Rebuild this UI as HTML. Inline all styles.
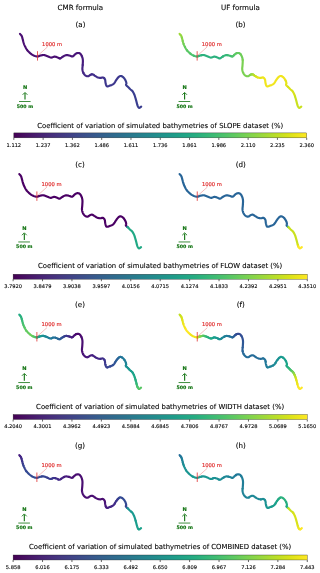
<!DOCTYPE html>
<html><head><meta charset="utf-8"><title>Coefficient of variation of simulated bathymetries</title>
<style>html,body{margin:0;padding:0;background:#fff}svg{display:block}</style></head>
<body>
<svg width="320" height="573" viewBox="0 0 320 573" font-family="'DejaVu Sans', 'Liberation Sans', sans-serif">
<defs><linearGradient id="vir" x1="0" x2="1" y1="0" y2="0"><stop offset="0.000" stop-color="#440154"/><stop offset="0.031" stop-color="#470d60"/><stop offset="0.062" stop-color="#48186a"/><stop offset="0.094" stop-color="#482374"/><stop offset="0.125" stop-color="#472d7b"/><stop offset="0.156" stop-color="#453781"/><stop offset="0.188" stop-color="#424086"/><stop offset="0.219" stop-color="#3e4989"/><stop offset="0.250" stop-color="#3b528b"/><stop offset="0.281" stop-color="#375b8d"/><stop offset="0.312" stop-color="#33638d"/><stop offset="0.344" stop-color="#2f6b8e"/><stop offset="0.375" stop-color="#2c728e"/><stop offset="0.406" stop-color="#297a8e"/><stop offset="0.438" stop-color="#26828e"/><stop offset="0.469" stop-color="#23898e"/><stop offset="0.500" stop-color="#21918c"/><stop offset="0.531" stop-color="#1f988b"/><stop offset="0.562" stop-color="#1fa088"/><stop offset="0.594" stop-color="#22a785"/><stop offset="0.625" stop-color="#28ae80"/><stop offset="0.656" stop-color="#32b67a"/><stop offset="0.688" stop-color="#3fbc73"/><stop offset="0.719" stop-color="#4ec36b"/><stop offset="0.750" stop-color="#5ec962"/><stop offset="0.781" stop-color="#70cf57"/><stop offset="0.812" stop-color="#84d44b"/><stop offset="0.844" stop-color="#98d83e"/><stop offset="0.875" stop-color="#addc30"/><stop offset="0.906" stop-color="#c2df23"/><stop offset="0.938" stop-color="#d8e219"/><stop offset="0.969" stop-color="#ece51b"/><stop offset="1.000" stop-color="#fde725"/></linearGradient></defs>
<rect width="320" height="573" fill="#fff"/>
<text x="80.4" y="9.6" font-size="7.1" text-anchor="middle" fill="#000" stroke="#000" stroke-width="0.1">CMR formula</text>
<text x="240.4" y="9.6" font-size="7.1" text-anchor="middle" fill="#000" stroke="#000" stroke-width="0.1">UF formula</text>
<g transform="translate(0.000,0.000) scale(1.00000)">
<text x="80.5" y="26.60" font-size="7.1" text-anchor="middle" fill="#000" stroke="#000" stroke-width="0.1">(a)</text>
<text x="240.5" y="26.60" font-size="7.1" text-anchor="middle" fill="#000" stroke="#000" stroke-width="0.1">(b)</text>
<g fill="none" stroke-width="2.15" stroke-linecap="round" stroke-linejoin="round"><path d="M20.00 33.90 L20.29 34.24 L20.59 34.56 L20.89 34.88 L21.19 35.21 L21.46 35.58 L21.70 36.00 L21.91 36.48 L22.09 37.00 L22.24 37.55 L22.39 38.13 L22.54 38.71 L22.70 39.30 L22.86 39.90 L23.02 40.52 L23.18 41.16 L23.34 41.79 L23.52 42.41 L23.70 43.00 L23.89 43.55 L24.07 44.06 L24.26 44.56 L24.47 45.07 L24.71 45.61 L25.00 46.20 L25.32 46.85 L25.65 47.55 L26.02 48.28 L26.44 49.02 L26.92 49.76 L27.50 50.50 L28.19 51.26 L28.99 52.06 L29.86 52.87 L30.76 53.64 L31.65 54.33 L32.50 54.90 L33.33 55.36 L34.18 55.73 L35.02 56.02 L35.82 56.25 L36.58 56.40 L37.25 56.50 L37.81 56.50 L38.28 56.41 L38.69 56.24 L39.08 56.05 L39.51 55.86 L40.00 55.70 L40.57 55.55 L41.18 55.39 L41.81 55.22 L42.46 55.09 L43.11 55.00 L43.75 55.00 L44.38 55.09 L45.00 55.27 L45.62 55.50 L46.25 55.75 L46.88 56.01 L47.50 56.25 L48.13 56.50 L48.77 56.78 L49.41 57.07 L50.04 57.32 L50.66 57.51 L51.25 57.60 L51.81 57.55 L52.35 57.37 L52.87 57.13 L53.38 56.89 L53.88 56.69 L54.40 56.60 L54.93 56.63 L55.46 56.73 L55.99 56.87 L56.51 57.05 L57.02 57.23 L57.50 57.40 L57.94 57.59 L58.36 57.83 L58.75 58.07 L59.14 58.27 L59.56 58.40 L60.00 58.40" stroke="#4a0e72"/><path d="M60.00 58.40 L60.48 58.25 L60.99 57.96 L61.51 57.60 L62.04 57.20 L62.57 56.82 L63.10 56.50 L63.62 56.21 L64.12 55.92 L64.63 55.64 L65.15 55.40 L65.69 55.21 L66.25 55.10 L66.85 55.08 L67.50 55.14 L68.16 55.26 L68.81 55.41 L69.43 55.57 L70.00 55.70 L70.50 55.86 L70.95 56.07 L71.37 56.28 L71.78 56.46 L72.18 56.54 L72.60 56.50 L73.04 56.28 L73.48 55.92 L73.92 55.48 L74.36 55.00 L74.78 54.56 L75.20 54.20 L75.60 53.92 L75.98 53.66 L76.36 53.43 L76.73 53.23 L77.11 53.09 L77.50 53.00 L77.91 52.96 L78.34 52.96 L78.78 53.00 L79.20 53.10 L79.62 53.27 L80.00 53.50 L80.36 53.82 L80.71 54.21 L81.05 54.67 L81.36 55.18 L81.65 55.71 L81.90 56.25" stroke="#491578"/><path d="M81.90 56.25 L82.13 56.80 L82.33 57.38 L82.50 57.98 L82.65 58.62 L82.77 59.29 L82.85 60.00 L82.89 60.77 L82.89 61.60 L82.85 62.46 L82.80 63.33 L82.75 64.19 L82.70 65.00" stroke="#471b7e"/><path d="M82.70 65.00 L82.64 65.78 L82.56 66.54 L82.47 67.28 L82.40 68.01 L82.37 68.71 L82.40 69.40 L82.49 70.07 L82.63 70.73 L82.80 71.37 L83.01 71.98 L83.24 72.56 L83.50 73.10" stroke="#452282"/><path d="M83.50 73.10 L83.79 73.61 L84.11 74.09 L84.46 74.54 L84.83 74.95 L85.22 75.30 L85.60 75.60 L85.99 75.84 L86.40 76.03 L86.82 76.17 L87.25 76.26 L87.68 76.29 L88.10 76.25 L88.52 76.11 L88.95 75.87 L89.37 75.56 L89.79 75.24 L90.20 74.96 L90.60 74.75 L90.98 74.60 L91.34 74.48 L91.69 74.39" stroke="#432886"/><path d="M91.69 74.39 L92.04 74.34 L92.39 74.34 L92.75 74.40 L93.11 74.53 L93.47 74.73 L93.83 74.98 L94.21 75.25 L94.59 75.53 L95.00 75.80 L95.43 76.07 L95.89 76.36 L96.37 76.66 L96.85 76.94 L97.33 77.19 L97.80 77.40 L98.27 77.56 L98.74 77.68 L99.22 77.78 L99.69 77.84 L100.15 77.88 L100.60 77.90 L101.04 77.86 L101.48 77.75 L101.91 77.61 L102.32 77.50 L102.72 77.44 L103.10 77.50 L103.47 77.66 L103.83 77.90 L104.17 78.19" stroke="#402e8a"/><path d="M104.17 78.19 L104.49 78.55 L104.77 78.95 L105.00 79.40 L105.17 79.92 L105.27 80.52 L105.34 81.17 L105.40 81.84 L105.47 82.49 L105.60 83.10 L105.76 83.70 L105.91 84.33 L106.09 84.95 L106.31 85.50 L106.57 85.95 L106.90 86.25 L107.30 86.38 L107.78 86.36 L108.30 86.24 L108.85 86.05 L109.42 85.82 L110.00 85.60 L110.60 85.38 L111.25 85.14 L111.91 84.87 L112.57 84.55 L113.19 84.18 L113.75 83.75 L114.24 83.23 L114.68 82.62 L115.08 81.95 L115.46 81.27 L115.85 80.61 L116.25 80.00 L116.67 79.42 L117.09 78.84 L117.52 78.27 L117.94 77.75 L118.35 77.28 L118.75 76.90 L119.14 76.59 L119.51 76.35 L119.88 76.16 L120.24 76.04 L120.61 75.99 L121.00 76.00" stroke="#3c368d"/><path d="M121.00 76.00 L121.41 76.09 L121.83 76.26 L122.26 76.50 L122.69 76.79 L123.10 77.13 L123.50 77.50 L123.89 77.93 L124.28 78.43 L124.66 78.98 L125.01 79.54 L125.33 80.09 L125.60 80.60 L125.82 81.08 L126.00 81.57 L126.15 82.04 L126.26 82.49 L126.35 82.91 L126.40 83.30 L126.39 83.64 L126.30 83.94 L126.19 84.21 L126.09 84.46 L126.04 84.72 L126.10 85.00 L126.27 85.29 L126.52 85.57 L126.83 85.86 L127.18 86.15 L127.54 86.46 L127.90 86.80 L128.27 87.17 L128.66 87.57 L129.08 87.99 L129.49 88.41 L129.90 88.82 L130.30 89.20 L130.68 89.54 L131.06 89.85 L131.44 90.14 L131.80 90.45 L132.16 90.80 L132.50 91.20 L132.83 91.68 L133.16 92.21 L133.47 92.79 L133.77 93.37 L134.05 93.95 L134.30 94.50 L134.51 95.01 L134.69 95.50 L134.85 95.99 L135.00 96.47 L135.14 96.97 L135.30 97.50 L135.47 98.05 L135.64 98.63 L135.81 99.22 L135.97 99.81 L136.14 100.41 L136.30 101.00 L136.46 101.60 L136.61 102.22 L136.76 102.84 L136.91 103.44 L137.06 104.00 L137.20 104.50 L137.33 104.94 L137.46 105.33 L137.57 105.69 L137.70 106.01 L137.84 106.31 L138.00 106.60 L138.18 106.89 L138.37 107.19 L138.58 107.46 L138.80 107.69 L139.04 107.84 L139.30 107.90 L139.58 107.83 L139.89 107.66 L140.21 107.41 L140.54 107.13 L140.88 106.85 L141.20 106.60" stroke="#393d8f"/></g>
<line x1="37.50" y1="51.20" x2="37.50" y2="60.60" stroke="#e03030" stroke-width="0.8"/><line x1="37.80" y1="55.60" x2="47.50" y2="46.90" stroke="#e03030" stroke-width="0.4" opacity="0.8"/><text x="42.10" y="45.70" font-size="5.2" fill="#e03030" stroke="#e03030" stroke-width="0.18">1000 m</text><text x="25.10" y="89.35" font-size="5.1" font-weight="bold" fill="#0f720f" stroke="#0f720f" stroke-width="0.15" text-anchor="middle">N</text><line x1="25.00" y1="93.00" x2="25.00" y2="99.60" stroke="#0f720f" stroke-width="1.1"/><path d="M22.60 94.80 L25.00 92.40 L27.40 94.80" fill="none" stroke="#0f720f" stroke-width="0.85"/><line x1="19.00" y1="101.50" x2="30.60" y2="101.50" stroke="#0f720f" stroke-width="0.8"/><text x="25.00" y="107.80" font-size="4.7" font-weight="bold" fill="#0f720f" stroke="#0f720f" stroke-width="0.15" text-anchor="middle">500 m</text>
<g transform="translate(159.5,0) scale(1.0041,1)"><g fill="none" stroke-width="2.15" stroke-linecap="round" stroke-linejoin="round"><path d="M20.00 33.90 L20.29 34.24 L20.59 34.56 L20.89 34.88" stroke="#a2da37"/><path d="M20.89 34.88 L21.19 35.21 L21.46 35.58 L21.70 36.00 L21.91 36.48 L22.09 37.00 L22.24 37.55" stroke="#95d840"/><path d="M22.24 37.55 L22.39 38.13 L22.54 38.71 L22.70 39.30 L22.86 39.90 L23.02 40.52 L23.18 41.16" stroke="#86d549"/><path d="M23.18 41.16 L23.34 41.79 L23.52 42.41 L23.70 43.00 L23.89 43.55 L24.07 44.06" stroke="#7ad151"/><path d="M24.07 44.06 L24.26 44.56 L24.47 45.07 L24.71 45.61 L25.00 46.20 L25.32 46.85" stroke="#6ece58"/><path d="M25.32 46.85 L25.65 47.55 L26.02 48.28 L26.44 49.02 L26.92 49.76 L27.50 50.50" stroke="#63cb5f"/><path d="M27.50 50.50 L28.19 51.26 L28.99 52.06 L29.86 52.87 L30.76 53.64" stroke="#58c765"/><path d="M30.76 53.64 L31.65 54.33 L32.50 54.90 L33.33 55.36 L34.18 55.73" stroke="#4ec36b"/><path d="M34.18 55.73 L35.02 56.02 L35.82 56.25 L36.58 56.40 L37.25 56.50" stroke="#44bf70"/><path d="M37.25 56.50 L37.81 56.50 L38.28 56.41 L38.69 56.24 L39.08 56.05 L39.51 55.86" stroke="#3bbb75"/><path d="M39.51 55.86 L40.00 55.70 L40.57 55.55 L41.18 55.39 L41.81 55.22" stroke="#32b67a"/><path d="M41.81 55.22 L42.46 55.09 L43.11 55.00 L43.75 55.00 L44.38 55.09 L45.00 55.27 L45.62 55.50 L46.25 55.75 L46.88 56.01 L47.50 56.25 L48.13 56.50 L48.77 56.78 L49.41 57.07 L50.04 57.32 L50.66 57.51 L51.25 57.60 L51.81 57.55 L52.35 57.37 L52.87 57.13 L53.38 56.89 L53.88 56.69 L54.40 56.60 L54.93 56.63 L55.46 56.73 L55.99 56.87 L56.51 57.05 L57.02 57.23 L57.50 57.40 L57.94 57.59 L58.36 57.83 L58.75 58.07 L59.14 58.27 L59.56 58.40 L60.00 58.40 L60.48 58.25 L60.99 57.96 L61.51 57.60 L62.04 57.20 L62.57 56.82 L63.10 56.50" stroke="#2cb17e"/><path d="M63.10 56.50 L63.62 56.21 L64.12 55.92 L64.63 55.64 L65.15 55.40 L65.69 55.21 L66.25 55.10 L66.85 55.08 L67.50 55.14" stroke="#32b67a"/><path d="M67.50 55.14 L68.16 55.26 L68.81 55.41 L69.43 55.57 L70.00 55.70 L70.50 55.86 L70.95 56.07" stroke="#3bbb75"/><path d="M70.95 56.07 L71.37 56.28 L71.78 56.46 L72.18 56.54 L72.60 56.50" stroke="#44bf70"/><path d="M72.60 56.50 L73.04 56.28 L73.48 55.92 L73.92 55.48 L74.36 55.00" stroke="#4ec36b"/><path d="M74.36 55.00 L74.78 54.56 L75.20 54.20 L75.60 53.92 L75.98 53.66 L76.36 53.43 L76.73 53.23" stroke="#58c765"/><path d="M76.73 53.23 L77.11 53.09 L77.50 53.00 L77.91 52.96 L78.34 52.96 L78.78 53.00 L79.20 53.10 L79.62 53.27 L80.00 53.50 L80.36 53.82 L80.71 54.21" stroke="#63cb5f"/><path d="M80.71 54.21 L81.05 54.67 L81.36 55.18 L81.65 55.71 L81.90 56.25 L82.13 56.80 L82.33 57.38 L82.50 57.98 L82.65 58.62 L82.77 59.29 L82.85 60.00" stroke="#6ece58"/><path d="M82.85 60.00 L82.89 60.77 L82.89 61.60 L82.85 62.46 L82.80 63.33 L82.75 64.19 L82.70 65.00 L82.64 65.78 L82.56 66.54 L82.47 67.28 L82.40 68.01 L82.37 68.71 L82.40 69.40 L82.49 70.07 L82.63 70.73 L82.80 71.37 L83.01 71.98 L83.24 72.56 L83.50 73.10 L83.79 73.61 L84.11 74.09 L84.46 74.54 L84.83 74.95 L85.22 75.30 L85.60 75.60 L85.99 75.84 L86.40 76.03 L86.82 76.17 L87.25 76.26 L87.68 76.29 L88.10 76.25 L88.52 76.11 L88.95 75.87 L89.37 75.56 L89.79 75.24 L90.20 74.96 L90.60 74.75 L90.98 74.60" stroke="#7ad151"/><path d="M90.98 74.60 L91.34 74.48 L91.69 74.39" stroke="#86d549"/><path d="M91.69 74.39 L92.04 74.34 L92.39 74.34 L92.75 74.40" stroke="#95d840"/><path d="M92.75 74.40 L93.11 74.53 L93.47 74.73" stroke="#a2da37"/><path d="M93.47 74.73 L93.83 74.98 L94.21 75.25" stroke="#b0dd2f"/><path d="M94.21 75.25 L94.59 75.53 L95.00 75.80 L95.43 76.07" stroke="#bddf26"/><path d="M95.43 76.07 L95.89 76.36 L96.37 76.66" stroke="#cae11f"/><path d="M96.37 76.66 L96.85 76.94 L97.33 77.19 L97.80 77.40" stroke="#d8e219"/><path d="M97.80 77.40 L98.27 77.56 L98.74 77.68 L99.22 77.78 L99.69 77.84 L100.15 77.88 L100.60 77.90 L101.04 77.86 L101.48 77.75 L101.91 77.61 L102.32 77.50 L102.72 77.44 L103.10 77.50" stroke="#e5e419"/><path d="M103.10 77.50 L103.47 77.66 L103.83 77.90 L104.17 78.19 L104.49 78.55 L104.77 78.95 L105.00 79.40 L105.17 79.92 L105.27 80.52 L105.34 81.17 L105.40 81.84 L105.47 82.49 L105.60 83.10 L105.76 83.70 L105.91 84.33 L106.09 84.95 L106.31 85.50 L106.57 85.95 L106.90 86.25 L107.30 86.38 L107.78 86.36 L108.30 86.24 L108.85 86.05 L109.42 85.82 L110.00 85.60 L110.60 85.38 L111.25 85.14 L111.91 84.87 L112.57 84.55 L113.19 84.18 L113.75 83.75 L114.24 83.23 L114.68 82.62 L115.08 81.95 L115.46 81.27 L115.85 80.61 L116.25 80.00 L116.67 79.42 L117.09 78.84 L117.52 78.27 L117.94 77.75 L118.35 77.28 L118.75 76.90 L119.14 76.59 L119.51 76.35 L119.88 76.16 L120.24 76.04 L120.61 75.99 L121.00 76.00 L121.41 76.09 L121.83 76.26 L122.26 76.50 L122.69 76.79 L123.10 77.13 L123.50 77.50 L123.89 77.93 L124.28 78.43 L124.66 78.98 L125.01 79.54 L125.33 80.09 L125.60 80.60" stroke="#f1e51d"/><path d="M125.60 80.60 L125.82 81.08 L126.00 81.57 L126.15 82.04 L126.26 82.49 L126.35 82.91 L126.40 83.30 L126.39 83.64 L126.30 83.94 L126.19 84.21 L126.09 84.46 L126.04 84.72 L126.10 85.00 L126.27 85.29 L126.52 85.57 L126.83 85.86 L127.18 86.15 L127.54 86.46 L127.90 86.80" stroke="#e5e419"/><path d="M127.90 86.80 L128.27 87.17 L128.66 87.57 L129.08 87.99 L129.49 88.41 L129.90 88.82 L130.30 89.20 L130.68 89.54 L131.06 89.85 L131.44 90.14 L131.80 90.45 L132.16 90.80 L132.50 91.20 L132.83 91.68 L133.16 92.21 L133.47 92.79 L133.77 93.37 L134.05 93.95 L134.30 94.50 L134.51 95.01 L134.69 95.50 L134.85 95.99 L135.00 96.47" stroke="#d8e219"/><path d="M135.00 96.47 L135.14 96.97 L135.30 97.50 L135.47 98.05 L135.64 98.63 L135.81 99.22 L135.97 99.81 L136.14 100.41 L136.30 101.00 L136.46 101.60 L136.61 102.22 L136.76 102.84 L136.91 103.44 L137.06 104.00 L137.20 104.50 L137.33 104.94 L137.46 105.33 L137.57 105.69 L137.70 106.01 L137.84 106.31 L138.00 106.60 L138.18 106.89 L138.37 107.19 L138.58 107.46 L138.80 107.69 L139.04 107.84 L139.30 107.90 L139.58 107.83 L139.89 107.66 L140.21 107.41 L140.54 107.13 L140.88 106.85 L141.20 106.60" stroke="#cae11f"/></g><line x1="37.50" y1="51.20" x2="37.50" y2="60.60" stroke="#e03030" stroke-width="0.8"/><line x1="37.80" y1="55.60" x2="47.50" y2="46.90" stroke="#e03030" stroke-width="0.4" opacity="0.8"/><text x="42.10" y="45.70" font-size="5.2" fill="#e03030" stroke="#e03030" stroke-width="0.18">1000 m</text><text x="25.10" y="89.35" font-size="5.1" font-weight="bold" fill="#0f720f" stroke="#0f720f" stroke-width="0.15" text-anchor="middle">N</text><line x1="25.00" y1="93.00" x2="25.00" y2="99.60" stroke="#0f720f" stroke-width="1.1"/><path d="M22.60 94.80 L25.00 92.40 L27.40 94.80" fill="none" stroke="#0f720f" stroke-width="0.85"/><line x1="19.00" y1="101.50" x2="30.60" y2="101.50" stroke="#0f720f" stroke-width="0.8"/><text x="25.00" y="107.80" font-size="4.7" font-weight="bold" fill="#0f720f" stroke="#0f720f" stroke-width="0.15" text-anchor="middle">500 m</text></g>
<text x="160.2" y="127.60" font-size="6.86" text-anchor="middle" fill="#000" stroke="#000" stroke-width="0.1">Coefficient of variation of simulated bathymetries of SLOPE dataset (%)</text>
<rect x="13.84" y="132.90" width="292.86" height="4.95" fill="url(#vir)" stroke="#222" stroke-width="0.35"/>
<line x1="13.84" y1="137.90" x2="13.84" y2="139.90" stroke="#000" stroke-width="0.6"/>
<text x="13.84" y="146.60" font-size="5.1" text-anchor="middle" fill="#000" stroke="#000" stroke-width="0.1">1.112</text>
<line x1="43.13" y1="137.90" x2="43.13" y2="139.90" stroke="#000" stroke-width="0.6"/>
<text x="43.13" y="146.60" font-size="5.1" text-anchor="middle" fill="#000" stroke="#000" stroke-width="0.1">1.237</text>
<line x1="72.41" y1="137.90" x2="72.41" y2="139.90" stroke="#000" stroke-width="0.6"/>
<text x="72.41" y="146.60" font-size="5.1" text-anchor="middle" fill="#000" stroke="#000" stroke-width="0.1">1.362</text>
<line x1="101.70" y1="137.90" x2="101.70" y2="139.90" stroke="#000" stroke-width="0.6"/>
<text x="101.70" y="146.60" font-size="5.1" text-anchor="middle" fill="#000" stroke="#000" stroke-width="0.1">1.486</text>
<line x1="130.98" y1="137.90" x2="130.98" y2="139.90" stroke="#000" stroke-width="0.6"/>
<text x="130.98" y="146.60" font-size="5.1" text-anchor="middle" fill="#000" stroke="#000" stroke-width="0.1">1.611</text>
<line x1="160.27" y1="137.90" x2="160.27" y2="139.90" stroke="#000" stroke-width="0.6"/>
<text x="160.27" y="146.60" font-size="5.1" text-anchor="middle" fill="#000" stroke="#000" stroke-width="0.1">1.736</text>
<line x1="189.56" y1="137.90" x2="189.56" y2="139.90" stroke="#000" stroke-width="0.6"/>
<text x="189.56" y="146.60" font-size="5.1" text-anchor="middle" fill="#000" stroke="#000" stroke-width="0.1">1.861</text>
<line x1="218.84" y1="137.90" x2="218.84" y2="139.90" stroke="#000" stroke-width="0.6"/>
<text x="218.84" y="146.60" font-size="5.1" text-anchor="middle" fill="#000" stroke="#000" stroke-width="0.1">1.986</text>
<line x1="248.13" y1="137.90" x2="248.13" y2="139.90" stroke="#000" stroke-width="0.6"/>
<text x="248.13" y="146.60" font-size="5.1" text-anchor="middle" fill="#000" stroke="#000" stroke-width="0.1">2.110</text>
<line x1="277.41" y1="137.90" x2="277.41" y2="139.90" stroke="#000" stroke-width="0.6"/>
<text x="277.41" y="146.60" font-size="5.1" text-anchor="middle" fill="#000" stroke="#000" stroke-width="0.1">2.235</text>
<line x1="306.70" y1="137.90" x2="306.70" y2="139.90" stroke="#000" stroke-width="0.6"/>
<text x="306.70" y="146.60" font-size="5.1" text-anchor="middle" fill="#000" stroke="#000" stroke-width="0.1">2.360</text>
</g>
<g transform="translate(-0.790,140.000) scale(1.00450)">
<text x="80.5" y="26.60" font-size="7.1" text-anchor="middle" fill="#000" stroke="#000" stroke-width="0.1">(c)</text>
<text x="240.5" y="26.60" font-size="7.1" text-anchor="middle" fill="#000" stroke="#000" stroke-width="0.1">(d)</text>
<g fill="none" stroke-width="2.15" stroke-linecap="round" stroke-linejoin="round"><path d="M20.00 33.90 L20.29 34.24 L20.59 34.56 L20.89 34.88 L21.19 35.21 L21.46 35.58 L21.70 36.00 L21.91 36.48 L22.09 37.00 L22.24 37.55 L22.39 38.13 L22.54 38.71 L22.70 39.30 L22.86 39.90 L23.02 40.52 L23.18 41.16 L23.34 41.79 L23.52 42.41 L23.70 43.00 L23.89 43.55 L24.07 44.06 L24.26 44.56 L24.47 45.07 L24.71 45.61 L25.00 46.20 L25.32 46.85 L25.65 47.55 L26.02 48.28 L26.44 49.02 L26.92 49.76 L27.50 50.50 L28.19 51.26 L28.99 52.06 L29.86 52.87 L30.76 53.64 L31.65 54.33 L32.50 54.90 L33.33 55.36 L34.18 55.73 L35.02 56.02 L35.82 56.25 L36.58 56.40 L37.25 56.50 L37.81 56.50 L38.28 56.41 L38.69 56.24 L39.08 56.05 L39.51 55.86 L40.00 55.70 L40.57 55.55 L41.18 55.39 L41.81 55.22 L42.46 55.09 L43.11 55.00 L43.75 55.00 L44.38 55.09 L45.00 55.27 L45.62 55.50 L46.25 55.75 L46.88 56.01 L47.50 56.25 L48.13 56.50 L48.77 56.78 L49.41 57.07 L50.04 57.32 L50.66 57.51 L51.25 57.60 L51.81 57.55 L52.35 57.37 L52.87 57.13 L53.38 56.89 L53.88 56.69 L54.40 56.60 L54.93 56.63 L55.46 56.73 L55.99 56.87 L56.51 57.05 L57.02 57.23 L57.50 57.40 L57.94 57.59 L58.36 57.83 L58.75 58.07 L59.14 58.27 L59.56 58.40 L60.00 58.40 L60.48 58.25 L60.99 57.96 L61.51 57.60 L62.04 57.20 L62.57 56.82 L63.10 56.50 L63.62 56.21 L64.12 55.92 L64.63 55.64 L65.15 55.40 L65.69 55.21 L66.25 55.10 L66.85 55.08 L67.50 55.14 L68.16 55.26 L68.81 55.41 L69.43 55.57 L70.00 55.70 L70.50 55.86 L70.95 56.07 L71.37 56.28 L71.78 56.46 L72.18 56.54 L72.60 56.50 L73.04 56.28 L73.48 55.92 L73.92 55.48 L74.36 55.00 L74.78 54.56 L75.20 54.20 L75.60 53.92 L75.98 53.66 L76.36 53.43 L76.73 53.23 L77.11 53.09 L77.50 53.00 L77.91 52.96 L78.34 52.96 L78.78 53.00 L79.20 53.10 L79.62 53.27 L80.00 53.50 L80.36 53.82 L80.71 54.21 L81.05 54.67 L81.36 55.18 L81.65 55.71 L81.90 56.25 L82.13 56.80 L82.33 57.38 L82.50 57.98 L82.65 58.62 L82.77 59.29 L82.85 60.00 L82.89 60.77 L82.89 61.60 L82.85 62.46 L82.80 63.33 L82.75 64.19 L82.70 65.00 L82.64 65.78 L82.56 66.54 L82.47 67.28 L82.40 68.01 L82.37 68.71 L82.40 69.40 L82.49 70.07 L82.63 70.73 L82.80 71.37 L83.01 71.98 L83.24 72.56 L83.50 73.10 L83.79 73.61 L84.11 74.09 L84.46 74.54 L84.83 74.95 L85.22 75.30 L85.60 75.60 L85.99 75.84 L86.40 76.03 L86.82 76.17 L87.25 76.26 L87.68 76.29 L88.10 76.25 L88.52 76.11 L88.95 75.87 L89.37 75.56 L89.79 75.24 L90.20 74.96 L90.60 74.75 L90.98 74.60 L91.34 74.48 L91.69 74.39 L92.04 74.34 L92.39 74.34 L92.75 74.40 L93.11 74.53 L93.47 74.73 L93.83 74.98 L94.21 75.25 L94.59 75.53 L95.00 75.80 L95.43 76.07 L95.89 76.36 L96.37 76.66 L96.85 76.94 L97.33 77.19 L97.80 77.40 L98.27 77.56 L98.74 77.68 L99.22 77.78 L99.69 77.84 L100.15 77.88 L100.60 77.90 L101.04 77.86 L101.48 77.75 L101.91 77.61 L102.32 77.50 L102.72 77.44 L103.10 77.50 L103.47 77.66 L103.83 77.90 L104.17 78.19 L104.49 78.55 L104.77 78.95 L105.00 79.40 L105.17 79.92 L105.27 80.52 L105.34 81.17 L105.40 81.84 L105.47 82.49 L105.60 83.10 L105.76 83.70 L105.91 84.33 L106.09 84.95 L106.31 85.50 L106.57 85.95 L106.90 86.25 L107.30 86.38 L107.78 86.36 L108.30 86.24 L108.85 86.05 L109.42 85.82 L110.00 85.60 L110.60 85.38 L111.25 85.14 L111.91 84.87 L112.57 84.55 L113.19 84.18 L113.75 83.75 L114.24 83.23 L114.68 82.62 L115.08 81.95 L115.46 81.27 L115.85 80.61 L116.25 80.00 L116.67 79.42 L117.09 78.84 L117.52 78.27 L117.94 77.75 L118.35 77.28 L118.75 76.90 L119.14 76.59 L119.51 76.35 L119.88 76.16 L120.24 76.04 L120.61 75.99 L121.00 76.00 L121.41 76.09 L121.83 76.26 L122.26 76.50 L122.69 76.79 L123.10 77.13 L123.50 77.50 L123.89 77.93 L124.28 78.43 L124.66 78.98 L125.01 79.54 L125.33 80.09 L125.60 80.60 L125.82 81.08 L126.00 81.57 L126.15 82.04 L126.26 82.49 L126.35 82.91 L126.40 83.30 L126.39 83.64 L126.30 83.94 L126.19 84.21 L126.09 84.46 L126.04 84.72 L126.10 85.00 L126.27 85.29 L126.52 85.57 L126.83 85.86 L127.18 86.15 L127.54 86.46" stroke="#4a0064"/><path d="M127.54 86.46 L127.90 86.80" stroke="#286598"/><path d="M127.90 86.80 L128.27 87.17 L128.66 87.57 L129.08 87.99 L129.49 88.41 L129.90 88.82 L130.30 89.20 L130.68 89.54 L131.06 89.85 L131.44 90.14 L131.80 90.45 L132.16 90.80 L132.50 91.20 L132.83 91.68 L133.16 92.21 L133.47 92.79 L133.77 93.37 L134.05 93.95 L134.30 94.50 L134.51 95.01 L134.69 95.50 L134.85 95.99 L135.00 96.47 L135.14 96.97 L135.30 97.50 L135.47 98.05 L135.64 98.63 L135.81 99.22 L135.97 99.81 L136.14 100.41 L136.30 101.00 L136.46 101.60 L136.61 102.22 L136.76 102.84 L136.91 103.44 L137.06 104.00 L137.20 104.50 L137.33 104.94 L137.46 105.33 L137.57 105.69 L137.70 106.01 L137.84 106.31 L138.00 106.60 L138.18 106.89 L138.37 107.19 L138.58 107.46 L138.80 107.69 L139.04 107.84 L139.30 107.90 L139.58 107.83 L139.89 107.66 L140.21 107.41 L140.54 107.13 L140.88 106.85 L141.20 106.60" stroke="#21a985"/></g>
<line x1="37.50" y1="51.20" x2="37.50" y2="60.60" stroke="#e03030" stroke-width="0.8"/><line x1="37.80" y1="55.60" x2="47.50" y2="46.90" stroke="#e03030" stroke-width="0.4" opacity="0.8"/><text x="42.10" y="45.70" font-size="5.2" fill="#e03030" stroke="#e03030" stroke-width="0.18">1000 m</text><text x="25.10" y="89.35" font-size="5.1" font-weight="bold" fill="#0f720f" stroke="#0f720f" stroke-width="0.15" text-anchor="middle">N</text><line x1="25.00" y1="93.00" x2="25.00" y2="99.60" stroke="#0f720f" stroke-width="1.1"/><path d="M22.60 94.80 L25.00 92.40 L27.40 94.80" fill="none" stroke="#0f720f" stroke-width="0.85"/><line x1="19.00" y1="101.50" x2="30.60" y2="101.50" stroke="#0f720f" stroke-width="0.8"/><text x="25.00" y="107.80" font-size="4.7" font-weight="bold" fill="#0f720f" stroke="#0f720f" stroke-width="0.15" text-anchor="middle">500 m</text>
<g transform="translate(159.5,0) scale(1.0041,1)"><g fill="none" stroke-width="2.15" stroke-linecap="round" stroke-linejoin="round"><path d="M20.00 33.90 L20.29 34.24 L20.59 34.56 L20.89 34.88 L21.19 35.21 L21.46 35.58 L21.70 36.00 L21.91 36.48 L22.09 37.00 L22.24 37.55 L22.39 38.13 L22.54 38.71 L22.70 39.30 L22.86 39.90 L23.02 40.52 L23.18 41.16 L23.34 41.79 L23.52 42.41 L23.70 43.00 L23.89 43.55 L24.07 44.06 L24.26 44.56 L24.47 45.07 L24.71 45.61 L25.00 46.20 L25.32 46.85 L25.65 47.55 L26.02 48.28 L26.44 49.02 L26.92 49.76 L27.50 50.50 L28.19 51.26 L28.99 52.06 L29.86 52.87 L30.76 53.64 L31.65 54.33 L32.50 54.90 L33.33 55.36 L34.18 55.73 L35.02 56.02 L35.82 56.25 L36.58 56.40 L37.25 56.50 L37.81 56.50 L38.28 56.41 L38.69 56.24 L39.08 56.05 L39.51 55.86 L40.00 55.70 L40.57 55.55 L41.18 55.39 L41.81 55.22 L42.46 55.09 L43.11 55.00 L43.75 55.00 L44.38 55.09 L45.00 55.27 L45.62 55.50 L46.25 55.75 L46.88 56.01 L47.50 56.25 L48.13 56.50 L48.77 56.78 L49.41 57.07 L50.04 57.32 L50.66 57.51 L51.25 57.60 L51.81 57.55 L52.35 57.37 L52.87 57.13 L53.38 56.89 L53.88 56.69 L54.40 56.60 L54.93 56.63 L55.46 56.73 L55.99 56.87 L56.51 57.05 L57.02 57.23 L57.50 57.40 L57.94 57.59 L58.36 57.83 L58.75 58.07 L59.14 58.27 L59.56 58.40 L60.00 58.40 L60.48 58.25 L60.99 57.96 L61.51 57.60 L62.04 57.20 L62.57 56.82 L63.10 56.50 L63.62 56.21 L64.12 55.92 L64.63 55.64 L65.15 55.40 L65.69 55.21 L66.25 55.10 L66.85 55.08 L67.50 55.14 L68.16 55.26 L68.81 55.41 L69.43 55.57 L70.00 55.70 L70.50 55.86 L70.95 56.07 L71.37 56.28 L71.78 56.46 L72.18 56.54 L72.60 56.50 L73.04 56.28 L73.48 55.92 L73.92 55.48 L74.36 55.00 L74.78 54.56 L75.20 54.20 L75.60 53.92 L75.98 53.66 L76.36 53.43 L76.73 53.23 L77.11 53.09 L77.50 53.00 L77.91 52.96 L78.34 52.96 L78.78 53.00 L79.20 53.10 L79.62 53.27 L80.00 53.50 L80.36 53.82 L80.71 54.21 L81.05 54.67 L81.36 55.18 L81.65 55.71 L81.90 56.25 L82.13 56.80 L82.33 57.38 L82.50 57.98 L82.65 58.62 L82.77 59.29 L82.85 60.00 L82.89 60.77 L82.89 61.60 L82.85 62.46 L82.80 63.33 L82.75 64.19 L82.70 65.00 L82.64 65.78 L82.56 66.54 L82.47 67.28 L82.40 68.01 L82.37 68.71 L82.40 69.40 L82.49 70.07 L82.63 70.73 L82.80 71.37 L83.01 71.98 L83.24 72.56 L83.50 73.10 L83.79 73.61 L84.11 74.09 L84.46 74.54 L84.83 74.95 L85.22 75.30 L85.60 75.60 L85.99 75.84 L86.40 76.03 L86.82 76.17 L87.25 76.26 L87.68 76.29 L88.10 76.25 L88.52 76.11 L88.95 75.87 L89.37 75.56 L89.79 75.24 L90.20 74.96 L90.60 74.75 L90.98 74.60 L91.34 74.48 L91.69 74.39 L92.04 74.34 L92.39 74.34 L92.75 74.40 L93.11 74.53 L93.47 74.73 L93.83 74.98 L94.21 75.25 L94.59 75.53 L95.00 75.80 L95.43 76.07 L95.89 76.36 L96.37 76.66 L96.85 76.94 L97.33 77.19 L97.80 77.40 L98.27 77.56 L98.74 77.68 L99.22 77.78 L99.69 77.84 L100.15 77.88 L100.60 77.90 L101.04 77.86 L101.48 77.75 L101.91 77.61 L102.32 77.50 L102.72 77.44 L103.10 77.50 L103.47 77.66 L103.83 77.90 L104.17 78.19 L104.49 78.55 L104.77 78.95 L105.00 79.40 L105.17 79.92 L105.27 80.52 L105.34 81.17 L105.40 81.84 L105.47 82.49 L105.60 83.10 L105.76 83.70 L105.91 84.33 L106.09 84.95 L106.31 85.50 L106.57 85.95 L106.90 86.25 L107.30 86.38 L107.78 86.36 L108.30 86.24 L108.85 86.05 L109.42 85.82 L110.00 85.60 L110.60 85.38 L111.25 85.14 L111.91 84.87 L112.57 84.55 L113.19 84.18 L113.75 83.75 L114.24 83.23 L114.68 82.62 L115.08 81.95 L115.46 81.27 L115.85 80.61 L116.25 80.00 L116.67 79.42 L117.09 78.84 L117.52 78.27 L117.94 77.75 L118.35 77.28 L118.75 76.90 L119.14 76.59 L119.51 76.35 L119.88 76.16 L120.24 76.04 L120.61 75.99 L121.00 76.00 L121.41 76.09 L121.83 76.26 L122.26 76.50 L122.69 76.79 L123.10 77.13 L123.50 77.50 L123.89 77.93 L124.28 78.43 L124.66 78.98 L125.01 79.54 L125.33 80.09 L125.60 80.60 L125.82 81.08 L126.00 81.57 L126.15 82.04 L126.26 82.49 L126.35 82.91 L126.40 83.30 L126.39 83.64 L126.30 83.94 L126.19 84.21 L126.09 84.46 L126.04 84.72 L126.10 85.00 L126.27 85.29 L126.52 85.57 L126.83 85.86 L127.18 86.15 L127.54 86.46" stroke="#286598"/><path d="M127.54 86.46 L127.90 86.80" stroke="#2cb17e"/><path d="M127.90 86.80 L128.27 87.17 L128.66 87.57 L129.08 87.99 L129.49 88.41 L129.90 88.82 L130.30 89.20 L130.68 89.54 L131.06 89.85 L131.44 90.14 L131.80 90.45 L132.16 90.80 L132.50 91.20 L132.83 91.68 L133.16 92.21 L133.47 92.79 L133.77 93.37 L134.05 93.95 L134.30 94.50 L134.51 95.01 L134.69 95.50 L134.85 95.99 L135.00 96.47 L135.14 96.97 L135.30 97.50 L135.47 98.05 L135.64 98.63 L135.81 99.22 L135.97 99.81 L136.14 100.41 L136.30 101.00 L136.46 101.60 L136.61 102.22 L136.76 102.84 L136.91 103.44 L137.06 104.00 L137.20 104.50" stroke="#cae11f"/><path d="M137.20 104.50 L137.33 104.94 L137.46 105.33" stroke="#d8e219"/><path d="M137.46 105.33 L137.57 105.69" stroke="#e5e419"/><path d="M137.57 105.69 L137.70 106.01 L137.84 106.31" stroke="#f1e51d"/><path d="M137.84 106.31 L138.00 106.60 L138.18 106.89 L138.37 107.19 L138.58 107.46 L138.80 107.69 L139.04 107.84 L139.30 107.90 L139.58 107.83 L139.89 107.66 L140.21 107.41 L140.54 107.13 L140.88 106.85 L141.20 106.60" stroke="#fde725"/></g><line x1="37.50" y1="51.20" x2="37.50" y2="60.60" stroke="#e03030" stroke-width="0.8"/><line x1="37.80" y1="55.60" x2="47.50" y2="46.90" stroke="#e03030" stroke-width="0.4" opacity="0.8"/><text x="42.10" y="45.70" font-size="5.2" fill="#e03030" stroke="#e03030" stroke-width="0.18">1000 m</text><text x="25.10" y="89.35" font-size="5.1" font-weight="bold" fill="#0f720f" stroke="#0f720f" stroke-width="0.15" text-anchor="middle">N</text><line x1="25.00" y1="93.00" x2="25.00" y2="99.60" stroke="#0f720f" stroke-width="1.1"/><path d="M22.60 94.80 L25.00 92.40 L27.40 94.80" fill="none" stroke="#0f720f" stroke-width="0.85"/><line x1="19.00" y1="101.50" x2="30.60" y2="101.50" stroke="#0f720f" stroke-width="0.8"/><text x="25.00" y="107.80" font-size="4.7" font-weight="bold" fill="#0f720f" stroke="#0f720f" stroke-width="0.15" text-anchor="middle">500 m</text></g>
<text x="160.2" y="127.60" font-size="6.86" text-anchor="middle" fill="#000" stroke="#000" stroke-width="0.1">Coefficient of variation of simulated bathymetries of FLOW dataset (%)</text>
<rect x="13.84" y="133.60" width="292.86" height="4.95" fill="url(#vir)" stroke="#222" stroke-width="0.35"/>
<line x1="13.84" y1="138.60" x2="13.84" y2="140.60" stroke="#000" stroke-width="0.6"/>
<text x="13.84" y="147.30" font-size="5.1" text-anchor="middle" fill="#000" stroke="#000" stroke-width="0.1">3.7920</text>
<line x1="43.13" y1="138.60" x2="43.13" y2="140.60" stroke="#000" stroke-width="0.6"/>
<text x="43.13" y="147.30" font-size="5.1" text-anchor="middle" fill="#000" stroke="#000" stroke-width="0.1">3.8479</text>
<line x1="72.41" y1="138.60" x2="72.41" y2="140.60" stroke="#000" stroke-width="0.6"/>
<text x="72.41" y="147.30" font-size="5.1" text-anchor="middle" fill="#000" stroke="#000" stroke-width="0.1">3.9038</text>
<line x1="101.70" y1="138.60" x2="101.70" y2="140.60" stroke="#000" stroke-width="0.6"/>
<text x="101.70" y="147.30" font-size="5.1" text-anchor="middle" fill="#000" stroke="#000" stroke-width="0.1">3.9597</text>
<line x1="130.98" y1="138.60" x2="130.98" y2="140.60" stroke="#000" stroke-width="0.6"/>
<text x="130.98" y="147.30" font-size="5.1" text-anchor="middle" fill="#000" stroke="#000" stroke-width="0.1">4.0156</text>
<line x1="160.27" y1="138.60" x2="160.27" y2="140.60" stroke="#000" stroke-width="0.6"/>
<text x="160.27" y="147.30" font-size="5.1" text-anchor="middle" fill="#000" stroke="#000" stroke-width="0.1">4.0715</text>
<line x1="189.56" y1="138.60" x2="189.56" y2="140.60" stroke="#000" stroke-width="0.6"/>
<text x="189.56" y="147.30" font-size="5.1" text-anchor="middle" fill="#000" stroke="#000" stroke-width="0.1">4.1274</text>
<line x1="218.84" y1="138.60" x2="218.84" y2="140.60" stroke="#000" stroke-width="0.6"/>
<text x="218.84" y="147.30" font-size="5.1" text-anchor="middle" fill="#000" stroke="#000" stroke-width="0.1">4.1833</text>
<line x1="248.13" y1="138.60" x2="248.13" y2="140.60" stroke="#000" stroke-width="0.6"/>
<text x="248.13" y="147.30" font-size="5.1" text-anchor="middle" fill="#000" stroke="#000" stroke-width="0.1">4.2392</text>
<line x1="277.41" y1="138.60" x2="277.41" y2="140.60" stroke="#000" stroke-width="0.6"/>
<text x="277.41" y="147.30" font-size="5.1" text-anchor="middle" fill="#000" stroke="#000" stroke-width="0.1">4.2951</text>
<line x1="306.70" y1="138.60" x2="306.70" y2="140.60" stroke="#000" stroke-width="0.6"/>
<text x="306.70" y="147.30" font-size="5.1" text-anchor="middle" fill="#000" stroke="#000" stroke-width="0.1">4.3510</text>
</g>
<g transform="translate(-0.790,280.600) scale(1.00450)">
<text x="80.5" y="26.60" font-size="7.1" text-anchor="middle" fill="#000" stroke="#000" stroke-width="0.1">(e)</text>
<text x="240.5" y="26.60" font-size="7.1" text-anchor="middle" fill="#000" stroke="#000" stroke-width="0.1">(f)</text>
<g fill="none" stroke-width="2.15" stroke-linecap="round" stroke-linejoin="round"><path d="M20.00 33.90 L20.29 34.24 L20.59 34.56" stroke="#21a985"/><path d="M20.59 34.56 L20.89 34.88 L21.19 35.21 L21.46 35.58 L21.70 36.00" stroke="#26ad81"/><path d="M21.70 36.00 L21.91 36.48 L22.09 37.00 L22.24 37.55 L22.39 38.13" stroke="#2cb17e"/><path d="M22.39 38.13 L22.54 38.71 L22.70 39.30 L22.86 39.90" stroke="#32b67a"/><path d="M22.86 39.90 L23.02 40.52 L23.18 41.16 L23.34 41.79 L23.52 42.41" stroke="#3bbb75"/><path d="M23.52 42.41 L23.70 43.00 L23.89 43.55 L24.07 44.06 L24.26 44.56" stroke="#44bf70"/><path d="M24.26 44.56 L24.47 45.07 L24.71 45.61 L25.00 46.20 L25.32 46.85" stroke="#4ec36b"/><path d="M25.32 46.85 L25.65 47.55 L26.02 48.28 L26.44 49.02 L26.92 49.76" stroke="#58c765"/><path d="M26.92 49.76 L27.50 50.50 L28.19 51.26 L28.99 52.06 L29.86 52.87 L30.76 53.64" stroke="#63cb5f"/><path d="M30.76 53.64 L31.65 54.33 L32.50 54.90 L33.33 55.36" stroke="#6ece58"/><path d="M33.33 55.36 L34.18 55.73" stroke="#63cb5f"/><path d="M34.18 55.73 L35.02 56.02 L35.82 56.25" stroke="#58c765"/><path d="M35.82 56.25 L36.58 56.40" stroke="#4ec36b"/><path d="M36.58 56.40 L37.25 56.50" stroke="#44bf70"/><path d="M37.25 56.50 L37.81 56.50" stroke="#3bbb75"/><path d="M37.81 56.50 L38.28 56.41" stroke="#32b67a"/><path d="M38.28 56.41 L38.69 56.24" stroke="#2cb17e"/><path d="M38.69 56.24 L39.08 56.05" stroke="#26ad81"/><path d="M39.08 56.05 L39.51 55.86" stroke="#1ea688"/><path d="M39.51 55.86 L40.00 55.70" stroke="#1ba28b"/><path d="M40.00 55.70 L40.57 55.55 L41.18 55.39" stroke="#1a9e8d"/><path d="M41.18 55.39 L41.81 55.22 L42.46 55.09" stroke="#1a9a90"/><path d="M42.46 55.09 L43.11 55.00 L43.75 55.00" stroke="#1b9692"/><path d="M43.75 55.00 L44.38 55.09 L45.00 55.27" stroke="#1c9194"/><path d="M45.00 55.27 L45.62 55.50 L46.25 55.75" stroke="#1d8d95"/><path d="M46.25 55.75 L46.88 56.01 L47.50 56.25" stroke="#1e8896"/><path d="M47.50 56.25 L48.13 56.50 L48.77 56.78 L49.41 57.07" stroke="#1f8397"/><path d="M49.41 57.07 L50.04 57.32 L50.66 57.51 L51.25 57.60 L51.81 57.55" stroke="#207e98"/><path d="M51.81 57.55 L52.35 57.37 L52.87 57.13 L53.38 56.89" stroke="#217899"/><path d="M53.38 56.89 L53.88 56.69 L54.40 56.60 L54.93 56.63 L55.46 56.73 L55.99 56.87" stroke="#237299"/><path d="M55.99 56.87 L56.51 57.05 L57.02 57.23 L57.50 57.40 L57.94 57.59 L58.36 57.83 L58.75 58.07" stroke="#256c98"/><path d="M58.75 58.07 L59.14 58.27 L59.56 58.40 L60.00 58.40 L60.48 58.25" stroke="#286598"/><path d="M60.48 58.25 L60.99 57.96 L61.51 57.60" stroke="#2b5e97"/><path d="M61.51 57.60 L62.04 57.20 L62.57 56.82" stroke="#2e5896"/><path d="M62.57 56.82 L63.10 56.50 L63.62 56.21" stroke="#315195"/><path d="M63.62 56.21 L64.12 55.92 L64.63 55.64" stroke="#334a93"/><path d="M64.63 55.64 L65.15 55.40 L65.69 55.21" stroke="#364491"/><path d="M65.69 55.21 L66.25 55.10 L66.85 55.08" stroke="#393d8f"/><path d="M66.85 55.08 L67.50 55.14 L68.16 55.26 L68.81 55.41" stroke="#3c368d"/><path d="M68.81 55.41 L69.43 55.57 L70.00 55.70" stroke="#402e8a"/><path d="M70.00 55.70 L70.50 55.86 L70.95 56.07" stroke="#432886"/><path d="M70.95 56.07 L71.37 56.28 L71.78 56.46 L72.18 56.54" stroke="#452282"/><path d="M72.18 56.54 L72.60 56.50 L73.04 56.28 L73.48 55.92" stroke="#471b7e"/><path d="M73.48 55.92 L73.92 55.48 L74.36 55.00 L74.78 54.56 L75.20 54.20" stroke="#491578"/><path d="M75.20 54.20 L75.60 53.92 L75.98 53.66 L76.36 53.43 L76.73 53.23" stroke="#4a0e72"/><path d="M76.73 53.23 L77.11 53.09 L77.50 53.00 L77.91 52.96 L78.34 52.96 L78.78 53.00 L79.20 53.10 L79.62 53.27 L80.00 53.50 L80.36 53.82 L80.71 54.21 L81.05 54.67 L81.36 55.18 L81.65 55.71 L81.90 56.25" stroke="#4a076c"/><path d="M81.90 56.25 L82.13 56.80 L82.33 57.38 L82.50 57.98 L82.65 58.62 L82.77 59.29 L82.85 60.00 L82.89 60.77 L82.89 61.60 L82.85 62.46 L82.80 63.33 L82.75 64.19 L82.70 65.00 L82.64 65.78 L82.56 66.54 L82.47 67.28 L82.40 68.01 L82.37 68.71 L82.40 69.40 L82.49 70.07 L82.63 70.73 L82.80 71.37 L83.01 71.98 L83.24 72.56 L83.50 73.10" stroke="#4a0e72"/><path d="M83.50 73.10 L83.79 73.61 L84.11 74.09 L84.46 74.54 L84.83 74.95 L85.22 75.30 L85.60 75.60 L85.99 75.84 L86.40 76.03 L86.82 76.17 L87.25 76.26 L87.68 76.29 L88.10 76.25" stroke="#491578"/><path d="M88.10 76.25 L88.52 76.11 L88.95 75.87 L89.37 75.56 L89.79 75.24 L90.20 74.96 L90.60 74.75 L90.98 74.60 L91.34 74.48 L91.69 74.39 L92.04 74.34 L92.39 74.34 L92.75 74.40" stroke="#471b7e"/><path d="M92.75 74.40 L93.11 74.53 L93.47 74.73 L93.83 74.98 L94.21 75.25 L94.59 75.53 L95.00 75.80 L95.43 76.07 L95.89 76.36 L96.37 76.66 L96.85 76.94" stroke="#452282"/><path d="M96.85 76.94 L97.33 77.19 L97.80 77.40 L98.27 77.56 L98.74 77.68 L99.22 77.78 L99.69 77.84 L100.15 77.88 L100.60 77.90 L101.04 77.86" stroke="#432886"/><path d="M101.04 77.86 L101.48 77.75 L101.91 77.61 L102.32 77.50 L102.72 77.44 L103.10 77.50 L103.47 77.66 L103.83 77.90 L104.17 78.19 L104.49 78.55 L104.77 78.95" stroke="#402e8a"/><path d="M104.77 78.95 L105.00 79.40 L105.17 79.92 L105.27 80.52 L105.34 81.17 L105.40 81.84 L105.47 82.49 L105.60 83.10 L105.76 83.70" stroke="#3c368d"/><path d="M105.76 83.70 L105.91 84.33 L106.09 84.95 L106.31 85.50 L106.57 85.95 L106.90 86.25 L107.30 86.38 L107.78 86.36" stroke="#393d8f"/><path d="M107.78 86.36 L108.30 86.24 L108.85 86.05 L109.42 85.82 L110.00 85.60 L110.60 85.38" stroke="#364491"/><path d="M110.60 85.38 L111.25 85.14 L111.91 84.87 L112.57 84.55 L113.19 84.18" stroke="#334a93"/><path d="M113.19 84.18 L113.75 83.75 L114.24 83.23 L114.68 82.62 L115.08 81.95 L115.46 81.27" stroke="#315195"/><path d="M115.46 81.27 L115.85 80.61 L116.25 80.00 L116.67 79.42" stroke="#2e5896"/><path d="M116.67 79.42 L117.09 78.84 L117.52 78.27 L117.94 77.75" stroke="#2b5e97"/><path d="M117.94 77.75 L118.35 77.28 L118.75 76.90 L119.14 76.59 L119.51 76.35" stroke="#286598"/><path d="M119.51 76.35 L119.88 76.16 L120.24 76.04" stroke="#256c98"/><path d="M120.24 76.04 L120.61 75.99 L121.00 76.00 L121.41 76.09 L121.83 76.26 L122.26 76.50" stroke="#237299"/><path d="M122.26 76.50 L122.69 76.79 L123.10 77.13 L123.50 77.50 L123.89 77.93 L124.28 78.43 L124.66 78.98" stroke="#217899"/><path d="M124.66 78.98 L125.01 79.54 L125.33 80.09 L125.60 80.60 L125.82 81.08 L126.00 81.57 L126.15 82.04" stroke="#207e98"/><path d="M126.15 82.04 L126.26 82.49 L126.35 82.91 L126.40 83.30 L126.39 83.64 L126.30 83.94" stroke="#1f8397"/><path d="M126.30 83.94 L126.19 84.21 L126.09 84.46 L126.04 84.72" stroke="#1e8896"/><path d="M126.04 84.72 L126.10 85.00 L126.27 85.29 L126.52 85.57 L126.83 85.86" stroke="#1d8d95"/><path d="M126.83 85.86 L127.18 86.15 L127.54 86.46 L127.90 86.80 L128.27 87.17" stroke="#1c9194"/><path d="M128.27 87.17 L128.66 87.57 L129.08 87.99 L129.49 88.41" stroke="#1b9692"/><path d="M129.49 88.41 L129.90 88.82 L130.30 89.20 L130.68 89.54 L131.06 89.85" stroke="#1a9a90"/><path d="M131.06 89.85 L131.44 90.14 L131.80 90.45 L132.16 90.80 L132.50 91.20 L132.83 91.68" stroke="#1a9e8d"/><path d="M132.83 91.68 L133.16 92.21 L133.47 92.79 L133.77 93.37 L134.05 93.95" stroke="#1ba28b"/><path d="M134.05 93.95 L134.30 94.50 L134.51 95.01 L134.69 95.50 L134.85 95.99 L135.00 96.47" stroke="#1ea688"/><path d="M135.00 96.47 L135.14 96.97 L135.30 97.50 L135.47 98.05 L135.64 98.63" stroke="#21a985"/><path d="M135.64 98.63 L135.81 99.22 L135.97 99.81" stroke="#26ad81"/><path d="M135.97 99.81 L136.14 100.41 L136.30 101.00 L136.46 101.60 L136.61 102.22" stroke="#2cb17e"/><path d="M136.61 102.22 L136.76 102.84 L136.91 103.44" stroke="#32b67a"/><path d="M136.91 103.44 L137.06 104.00 L137.20 104.50 L137.33 104.94 L137.46 105.33" stroke="#3bbb75"/><path d="M137.46 105.33 L137.57 105.69 L137.70 106.01" stroke="#44bf70"/><path d="M137.70 106.01 L137.84 106.31 L138.00 106.60 L138.18 106.89 L138.37 107.19 L138.58 107.46 L138.80 107.69 L139.04 107.84 L139.30 107.90" stroke="#4ec36b"/><path d="M139.30 107.90 L139.58 107.83 L139.89 107.66 L140.21 107.41 L140.54 107.13 L140.88 106.85 L141.20 106.60" stroke="#58c765"/></g>
<line x1="37.50" y1="51.20" x2="37.50" y2="60.60" stroke="#e03030" stroke-width="0.8"/><line x1="37.80" y1="55.60" x2="47.50" y2="46.90" stroke="#e03030" stroke-width="0.4" opacity="0.8"/><text x="42.10" y="45.70" font-size="5.2" fill="#e03030" stroke="#e03030" stroke-width="0.18">1000 m</text><text x="25.10" y="89.35" font-size="5.1" font-weight="bold" fill="#0f720f" stroke="#0f720f" stroke-width="0.15" text-anchor="middle">N</text><line x1="25.00" y1="93.00" x2="25.00" y2="99.60" stroke="#0f720f" stroke-width="1.1"/><path d="M22.60 94.80 L25.00 92.40 L27.40 94.80" fill="none" stroke="#0f720f" stroke-width="0.85"/><line x1="19.00" y1="101.50" x2="30.60" y2="101.50" stroke="#0f720f" stroke-width="0.8"/><text x="25.00" y="107.80" font-size="4.7" font-weight="bold" fill="#0f720f" stroke="#0f720f" stroke-width="0.15" text-anchor="middle">500 m</text>
<g transform="translate(159.5,0) scale(1.0041,1)"><g fill="none" stroke-width="2.15" stroke-linecap="round" stroke-linejoin="round"><path d="M20.00 33.90 L20.29 34.24 L20.59 34.56" stroke="#bddf26"/><path d="M20.59 34.56 L20.89 34.88 L21.19 35.21 L21.46 35.58 L21.70 36.00 L21.91 36.48" stroke="#cae11f"/><path d="M21.91 36.48 L22.09 37.00 L22.24 37.55 L22.39 38.13 L22.54 38.71 L22.70 39.30" stroke="#d8e219"/><path d="M22.70 39.30 L22.86 39.90 L23.02 40.52 L23.18 41.16 L23.34 41.79 L23.52 42.41 L23.70 43.00" stroke="#e5e419"/><path d="M23.70 43.00 L23.89 43.55 L24.07 44.06 L24.26 44.56 L24.47 45.07 L24.71 45.61 L25.00 46.20 L25.32 46.85 L25.65 47.55" stroke="#f1e51d"/><path d="M25.65 47.55 L26.02 48.28 L26.44 49.02 L26.92 49.76 L27.50 50.50 L28.19 51.26 L28.99 52.06 L29.86 52.87 L30.76 53.64" stroke="#fde725"/><path d="M30.76 53.64 L31.65 54.33 L32.50 54.90 L33.33 55.36 L34.18 55.73 L35.02 56.02 L35.82 56.25 L36.58 56.40 L37.25 56.50" stroke="#f1e51d"/><path d="M37.25 56.50 L37.81 56.50" stroke="#e5e419"/><path d="M37.81 56.50 L38.28 56.41" stroke="#d8e219"/><path d="M38.28 56.41 L38.69 56.24" stroke="#cae11f"/><path d="M38.69 56.24 L39.08 56.05" stroke="#bddf26"/><path d="M39.08 56.05 L39.51 55.86" stroke="#b0dd2f"/><path d="M39.51 55.86 L40.00 55.70" stroke="#a2da37"/><path d="M40.00 55.70 L40.57 55.55" stroke="#95d840"/><path d="M40.57 55.55 L41.18 55.39" stroke="#86d549"/><path d="M41.18 55.39 L41.81 55.22 L42.46 55.09" stroke="#7ad151"/><path d="M42.46 55.09 L43.11 55.00" stroke="#6ece58"/><path d="M43.11 55.00 L43.75 55.00" stroke="#63cb5f"/><path d="M43.75 55.00 L44.38 55.09" stroke="#58c765"/><path d="M44.38 55.09 L45.00 55.27" stroke="#4ec36b"/><path d="M45.00 55.27 L45.62 55.50 L46.25 55.75" stroke="#44bf70"/><path d="M46.25 55.75 L46.88 56.01" stroke="#3bbb75"/><path d="M46.88 56.01 L47.50 56.25" stroke="#32b67a"/><path d="M47.50 56.25 L48.13 56.50 L48.77 56.78" stroke="#2cb17e"/><path d="M48.77 56.78 L49.41 57.07 L50.04 57.32 L50.66 57.51" stroke="#26ad81"/><path d="M50.66 57.51 L51.25 57.60 L51.81 57.55" stroke="#21a985"/><path d="M51.81 57.55 L52.35 57.37 L52.87 57.13 L53.38 56.89" stroke="#1ea688"/><path d="M53.38 56.89 L53.88 56.69 L54.40 56.60" stroke="#1ba28b"/><path d="M54.40 56.60 L54.93 56.63 L55.46 56.73 L55.99 56.87" stroke="#1a9e8d"/><path d="M55.99 56.87 L56.51 57.05 L57.02 57.23 L57.50 57.40 L57.94 57.59" stroke="#1a9a90"/><path d="M57.94 57.59 L58.36 57.83 L58.75 58.07 L59.14 58.27" stroke="#1b9692"/><path d="M59.14 58.27 L59.56 58.40 L60.00 58.40 L60.48 58.25 L60.99 57.96" stroke="#1c9194"/><path d="M60.99 57.96 L61.51 57.60 L62.04 57.20" stroke="#1d8d95"/><path d="M62.04 57.20 L62.57 56.82 L63.10 56.50 L63.62 56.21 L64.12 55.92" stroke="#1e8896"/><path d="M64.12 55.92 L64.63 55.64 L65.15 55.40" stroke="#1f8397"/><path d="M65.15 55.40 L65.69 55.21 L66.25 55.10 L66.85 55.08 L67.50 55.14" stroke="#207e98"/><path d="M67.50 55.14 L68.16 55.26 L68.81 55.41 L69.43 55.57" stroke="#217899"/><path d="M69.43 55.57 L70.00 55.70 L70.50 55.86 L70.95 56.07 L71.37 56.28" stroke="#237299"/><path d="M71.37 56.28 L71.78 56.46 L72.18 56.54 L72.60 56.50" stroke="#256c98"/><path d="M72.60 56.50 L73.04 56.28 L73.48 55.92" stroke="#286598"/><path d="M73.48 55.92 L73.92 55.48 L74.36 55.00 L74.78 54.56" stroke="#2b5e97"/><path d="M74.78 54.56 L75.20 54.20 L75.60 53.92" stroke="#2e5896"/><path d="M75.60 53.92 L75.98 53.66 L76.36 53.43 L76.73 53.23" stroke="#315195"/><path d="M76.73 53.23 L77.11 53.09 L77.50 53.00 L77.91 52.96 L78.34 52.96 L78.78 53.00 L79.20 53.10 L79.62 53.27 L80.00 53.50 L80.36 53.82 L80.71 54.21 L81.05 54.67 L81.36 55.18" stroke="#334a93"/><path d="M81.36 55.18 L81.65 55.71 L81.90 56.25 L82.13 56.80 L82.33 57.38 L82.50 57.98 L82.65 58.62 L82.77 59.29 L82.85 60.00 L82.89 60.77" stroke="#315195"/><path d="M82.89 60.77 L82.89 61.60 L82.85 62.46 L82.80 63.33 L82.75 64.19 L82.70 65.00 L82.64 65.78 L82.56 66.54" stroke="#2e5896"/><path d="M82.56 66.54 L82.47 67.28 L82.40 68.01 L82.37 68.71 L82.40 69.40 L82.49 70.07" stroke="#2b5e97"/><path d="M82.49 70.07 L82.63 70.73 L82.80 71.37 L83.01 71.98 L83.24 72.56 L83.50 73.10" stroke="#286598"/><path d="M83.50 73.10 L83.79 73.61 L84.11 74.09 L84.46 74.54 L84.83 74.95 L85.22 75.30 L85.60 75.60 L85.99 75.84 L86.40 76.03 L86.82 76.17 L87.25 76.26 L87.68 76.29 L88.10 76.25 L88.52 76.11 L88.95 75.87 L89.37 75.56 L89.79 75.24 L90.20 74.96 L90.60 74.75 L90.98 74.60 L91.34 74.48 L91.69 74.39 L92.04 74.34 L92.39 74.34 L92.75 74.40 L93.11 74.53 L93.47 74.73 L93.83 74.98 L94.21 75.25 L94.59 75.53 L95.00 75.80 L95.43 76.07 L95.89 76.36 L96.37 76.66 L96.85 76.94 L97.33 77.19 L97.80 77.40 L98.27 77.56 L98.74 77.68 L99.22 77.78 L99.69 77.84 L100.15 77.88 L100.60 77.90 L101.04 77.86 L101.48 77.75 L101.91 77.61 L102.32 77.50 L102.72 77.44" stroke="#256c98"/><path d="M102.72 77.44 L103.10 77.50 L103.47 77.66 L103.83 77.90 L104.17 78.19 L104.49 78.55 L104.77 78.95 L105.00 79.40 L105.17 79.92 L105.27 80.52" stroke="#237299"/><path d="M105.27 80.52 L105.34 81.17 L105.40 81.84 L105.47 82.49 L105.60 83.10 L105.76 83.70 L105.91 84.33 L106.09 84.95 L106.31 85.50 L106.57 85.95 L106.90 86.25" stroke="#217899"/><path d="M106.90 86.25 L107.30 86.38 L107.78 86.36 L108.30 86.24 L108.85 86.05 L109.42 85.82" stroke="#207e98"/><path d="M109.42 85.82 L110.00 85.60 L110.60 85.38 L111.25 85.14 L111.91 84.87 L112.57 84.55" stroke="#1f8397"/><path d="M112.57 84.55 L113.19 84.18 L113.75 83.75 L114.24 83.23 L114.68 82.62 L115.08 81.95" stroke="#1e8896"/><path d="M115.08 81.95 L115.46 81.27 L115.85 80.61 L116.25 80.00 L116.67 79.42 L117.09 78.84" stroke="#1d8d95"/><path d="M117.09 78.84 L117.52 78.27 L117.94 77.75 L118.35 77.28 L118.75 76.90" stroke="#1c9194"/><path d="M118.75 76.90 L119.14 76.59 L119.51 76.35 L119.88 76.16 L120.24 76.04" stroke="#1b9692"/><path d="M120.24 76.04 L120.61 75.99 L121.00 76.00 L121.41 76.09 L121.83 76.26 L122.26 76.50 L122.69 76.79" stroke="#1a9a90"/><path d="M122.69 76.79 L123.10 77.13 L123.50 77.50 L123.89 77.93 L124.28 78.43 L124.66 78.98 L125.01 79.54 L125.33 80.09" stroke="#1a9e8d"/><path d="M125.33 80.09 L125.60 80.60 L125.82 81.08 L126.00 81.57 L126.15 82.04 L126.26 82.49 L126.35 82.91 L126.40 83.30" stroke="#1ba28b"/><path d="M126.40 83.30 L126.39 83.64 L126.30 83.94 L126.19 84.21 L126.09 84.46 L126.04 84.72" stroke="#1ea688"/><path d="M126.04 84.72 L126.10 85.00 L126.27 85.29 L126.52 85.57 L126.83 85.86 L127.18 86.15" stroke="#21a985"/><path d="M127.18 86.15 L127.54 86.46 L127.90 86.80 L128.27 87.17" stroke="#26ad81"/><path d="M128.27 87.17 L128.66 87.57" stroke="#2cb17e"/><path d="M128.66 87.57 L129.08 87.99 L129.49 88.41" stroke="#32b67a"/><path d="M129.49 88.41 L129.90 88.82" stroke="#3bbb75"/><path d="M129.90 88.82 L130.30 89.20 L130.68 89.54" stroke="#44bf70"/><path d="M130.68 89.54 L131.06 89.85" stroke="#4ec36b"/><path d="M131.06 89.85 L131.44 90.14 L131.80 90.45" stroke="#58c765"/><path d="M131.80 90.45 L132.16 90.80" stroke="#63cb5f"/><path d="M132.16 90.80 L132.50 91.20 L132.83 91.68" stroke="#6ece58"/><path d="M132.83 91.68 L133.16 92.21" stroke="#7ad151"/><path d="M133.16 92.21 L133.47 92.79" stroke="#86d549"/><path d="M133.47 92.79 L133.77 93.37 L134.05 93.95" stroke="#95d840"/><path d="M134.05 93.95 L134.30 94.50" stroke="#a2da37"/><path d="M134.30 94.50 L134.51 95.01 L134.69 95.50" stroke="#b0dd2f"/><path d="M134.69 95.50 L134.85 95.99 L135.00 96.47 L135.14 96.97" stroke="#bddf26"/><path d="M135.14 96.97 L135.30 97.50 L135.47 98.05" stroke="#cae11f"/><path d="M135.47 98.05 L135.64 98.63 L135.81 99.22" stroke="#d8e219"/><path d="M135.81 99.22 L135.97 99.81 L136.14 100.41 L136.30 101.00 L136.46 101.60 L136.61 102.22 L136.76 102.84" stroke="#e5e419"/><path d="M136.76 102.84 L136.91 103.44 L137.06 104.00 L137.20 104.50 L137.33 104.94 L137.46 105.33 L137.57 105.69" stroke="#f1e51d"/><path d="M137.57 105.69 L137.70 106.01 L137.84 106.31 L138.00 106.60 L138.18 106.89 L138.37 107.19 L138.58 107.46 L138.80 107.69 L139.04 107.84 L139.30 107.90 L139.58 107.83 L139.89 107.66 L140.21 107.41 L140.54 107.13 L140.88 106.85 L141.20 106.60" stroke="#fde725"/></g><line x1="37.50" y1="51.20" x2="37.50" y2="60.60" stroke="#e03030" stroke-width="0.8"/><line x1="37.80" y1="55.60" x2="47.50" y2="46.90" stroke="#e03030" stroke-width="0.4" opacity="0.8"/><text x="42.10" y="45.70" font-size="5.2" fill="#e03030" stroke="#e03030" stroke-width="0.18">1000 m</text><text x="25.10" y="89.35" font-size="5.1" font-weight="bold" fill="#0f720f" stroke="#0f720f" stroke-width="0.15" text-anchor="middle">N</text><line x1="25.00" y1="93.00" x2="25.00" y2="99.60" stroke="#0f720f" stroke-width="1.1"/><path d="M22.60 94.80 L25.00 92.40 L27.40 94.80" fill="none" stroke="#0f720f" stroke-width="0.85"/><line x1="19.00" y1="101.50" x2="30.60" y2="101.50" stroke="#0f720f" stroke-width="0.8"/><text x="25.00" y="107.80" font-size="4.7" font-weight="bold" fill="#0f720f" stroke="#0f720f" stroke-width="0.15" text-anchor="middle">500 m</text></g>
<text x="160.2" y="127.60" font-size="6.86" text-anchor="middle" fill="#000" stroke="#000" stroke-width="0.1">Coefficient of variation of simulated bathymetries of WIDTH dataset (%)</text>
<rect x="13.84" y="133.30" width="292.86" height="4.95" fill="url(#vir)" stroke="#222" stroke-width="0.35"/>
<line x1="13.84" y1="138.30" x2="13.84" y2="140.30" stroke="#000" stroke-width="0.6"/>
<text x="13.84" y="147.00" font-size="5.1" text-anchor="middle" fill="#000" stroke="#000" stroke-width="0.1">4.2040</text>
<line x1="43.13" y1="138.30" x2="43.13" y2="140.30" stroke="#000" stroke-width="0.6"/>
<text x="43.13" y="147.00" font-size="5.1" text-anchor="middle" fill="#000" stroke="#000" stroke-width="0.1">4.3001</text>
<line x1="72.41" y1="138.30" x2="72.41" y2="140.30" stroke="#000" stroke-width="0.6"/>
<text x="72.41" y="147.00" font-size="5.1" text-anchor="middle" fill="#000" stroke="#000" stroke-width="0.1">4.3962</text>
<line x1="101.70" y1="138.30" x2="101.70" y2="140.30" stroke="#000" stroke-width="0.6"/>
<text x="101.70" y="147.00" font-size="5.1" text-anchor="middle" fill="#000" stroke="#000" stroke-width="0.1">4.4923</text>
<line x1="130.98" y1="138.30" x2="130.98" y2="140.30" stroke="#000" stroke-width="0.6"/>
<text x="130.98" y="147.00" font-size="5.1" text-anchor="middle" fill="#000" stroke="#000" stroke-width="0.1">4.5884</text>
<line x1="160.27" y1="138.30" x2="160.27" y2="140.30" stroke="#000" stroke-width="0.6"/>
<text x="160.27" y="147.00" font-size="5.1" text-anchor="middle" fill="#000" stroke="#000" stroke-width="0.1">4.6845</text>
<line x1="189.56" y1="138.30" x2="189.56" y2="140.30" stroke="#000" stroke-width="0.6"/>
<text x="189.56" y="147.00" font-size="5.1" text-anchor="middle" fill="#000" stroke="#000" stroke-width="0.1">4.7806</text>
<line x1="218.84" y1="138.30" x2="218.84" y2="140.30" stroke="#000" stroke-width="0.6"/>
<text x="218.84" y="147.00" font-size="5.1" text-anchor="middle" fill="#000" stroke="#000" stroke-width="0.1">4.8767</text>
<line x1="248.13" y1="138.30" x2="248.13" y2="140.30" stroke="#000" stroke-width="0.6"/>
<text x="248.13" y="147.00" font-size="5.1" text-anchor="middle" fill="#000" stroke="#000" stroke-width="0.1">4.9728</text>
<line x1="277.41" y1="138.30" x2="277.41" y2="140.30" stroke="#000" stroke-width="0.6"/>
<text x="277.41" y="147.00" font-size="5.1" text-anchor="middle" fill="#000" stroke="#000" stroke-width="0.1">5.0689</text>
<line x1="306.70" y1="138.30" x2="306.70" y2="140.30" stroke="#000" stroke-width="0.6"/>
<text x="306.70" y="147.00" font-size="5.1" text-anchor="middle" fill="#000" stroke="#000" stroke-width="0.1">5.1650</text>
</g>
<g transform="translate(-0.790,421.100) scale(1.00450)">
<text x="80.5" y="26.60" font-size="7.1" text-anchor="middle" fill="#000" stroke="#000" stroke-width="0.1">(g)</text>
<text x="240.5" y="26.60" font-size="7.1" text-anchor="middle" fill="#000" stroke="#000" stroke-width="0.1">(h)</text>
<g fill="none" stroke-width="2.15" stroke-linecap="round" stroke-linejoin="round"><path d="M20.00 33.90 L20.29 34.24 L20.59 34.56" stroke="#471b7e"/><path d="M20.59 34.56 L20.89 34.88 L21.19 35.21 L21.46 35.58 L21.70 36.00" stroke="#452282"/><path d="M21.70 36.00 L21.91 36.48 L22.09 37.00 L22.24 37.55" stroke="#432886"/><path d="M22.24 37.55 L22.39 38.13 L22.54 38.71 L22.70 39.30 L22.86 39.90" stroke="#402e8a"/><path d="M22.86 39.90 L23.02 40.52 L23.18 41.16 L23.34 41.79 L23.52 42.41" stroke="#3c368d"/><path d="M23.52 42.41 L23.70 43.00 L23.89 43.55 L24.07 44.06 L24.26 44.56" stroke="#393d8f"/><path d="M24.26 44.56 L24.47 45.07 L24.71 45.61 L25.00 46.20 L25.32 46.85 L25.65 47.55 L26.02 48.28 L26.44 49.02 L26.92 49.76" stroke="#364491"/><path d="M26.92 49.76 L27.50 50.50 L28.19 51.26 L28.99 52.06 L29.86 52.87 L30.76 53.64 L31.65 54.33 L32.50 54.90 L33.33 55.36 L34.18 55.73 L35.02 56.02 L35.82 56.25 L36.58 56.40 L37.25 56.50 L37.81 56.50 L38.28 56.41 L38.69 56.24 L39.08 56.05 L39.51 55.86 L40.00 55.70 L40.57 55.55 L41.18 55.39 L41.81 55.22 L42.46 55.09" stroke="#334a93"/><path d="M42.46 55.09 L43.11 55.00 L43.75 55.00 L44.38 55.09 L45.00 55.27 L45.62 55.50 L46.25 55.75 L46.88 56.01 L47.50 56.25 L48.13 56.50" stroke="#364491"/><path d="M48.13 56.50 L48.77 56.78 L49.41 57.07 L50.04 57.32 L50.66 57.51 L51.25 57.60 L51.81 57.55 L52.35 57.37 L52.87 57.13" stroke="#393d8f"/><path d="M52.87 57.13 L53.38 56.89 L53.88 56.69 L54.40 56.60 L54.93 56.63 L55.46 56.73 L55.99 56.87" stroke="#3c368d"/><path d="M55.99 56.87 L56.51 57.05 L57.02 57.23 L57.50 57.40 L57.94 57.59 L58.36 57.83 L58.75 58.07" stroke="#402e8a"/><path d="M58.75 58.07 L59.14 58.27 L59.56 58.40 L60.00 58.40 L60.48 58.25 L60.99 57.96 L61.51 57.60" stroke="#432886"/><path d="M61.51 57.60 L62.04 57.20 L62.57 56.82 L63.10 56.50 L63.62 56.21 L64.12 55.92 L64.63 55.64" stroke="#452282"/><path d="M64.63 55.64 L65.15 55.40 L65.69 55.21 L66.25 55.10 L66.85 55.08 L67.50 55.14 L68.16 55.26 L68.81 55.41 L69.43 55.57" stroke="#471b7e"/><path d="M69.43 55.57 L70.00 55.70 L70.50 55.86 L70.95 56.07 L71.37 56.28 L71.78 56.46 L72.18 56.54 L72.60 56.50 L73.04 56.28 L73.48 55.92" stroke="#491578"/><path d="M73.48 55.92 L73.92 55.48 L74.36 55.00 L74.78 54.56 L75.20 54.20 L75.60 53.92 L75.98 53.66 L76.36 53.43 L76.73 53.23 L77.11 53.09 L77.50 53.00 L77.91 52.96 L78.34 52.96 L78.78 53.00 L79.20 53.10 L79.62 53.27 L80.00 53.50 L80.36 53.82 L80.71 54.21 L81.05 54.67 L81.36 55.18 L81.65 55.71 L81.90 56.25 L82.13 56.80 L82.33 57.38 L82.50 57.98 L82.65 58.62 L82.77 59.29 L82.85 60.00 L82.89 60.77 L82.89 61.60 L82.85 62.46 L82.80 63.33 L82.75 64.19 L82.70 65.00 L82.64 65.78 L82.56 66.54 L82.47 67.28 L82.40 68.01 L82.37 68.71 L82.40 69.40 L82.49 70.07 L82.63 70.73 L82.80 71.37 L83.01 71.98 L83.24 72.56 L83.50 73.10 L83.79 73.61 L84.11 74.09 L84.46 74.54 L84.83 74.95 L85.22 75.30 L85.60 75.60 L85.99 75.84 L86.40 76.03 L86.82 76.17 L87.25 76.26 L87.68 76.29 L88.10 76.25 L88.52 76.11 L88.95 75.87 L89.37 75.56 L89.79 75.24 L90.20 74.96 L90.60 74.75 L90.98 74.60 L91.34 74.48 L91.69 74.39 L92.04 74.34 L92.39 74.34 L92.75 74.40 L93.11 74.53 L93.47 74.73 L93.83 74.98 L94.21 75.25 L94.59 75.53 L95.00 75.80 L95.43 76.07 L95.89 76.36 L96.37 76.66 L96.85 76.94 L97.33 77.19 L97.80 77.40 L98.27 77.56 L98.74 77.68 L99.22 77.78 L99.69 77.84 L100.15 77.88 L100.60 77.90 L101.04 77.86 L101.48 77.75 L101.91 77.61 L102.32 77.50 L102.72 77.44 L103.10 77.50 L103.47 77.66 L103.83 77.90 L104.17 78.19 L104.49 78.55 L104.77 78.95 L105.00 79.40 L105.17 79.92 L105.27 80.52 L105.34 81.17" stroke="#4a0e72"/><path d="M105.34 81.17 L105.40 81.84 L105.47 82.49 L105.60 83.10 L105.76 83.70 L105.91 84.33 L106.09 84.95" stroke="#491578"/><path d="M106.09 84.95 L106.31 85.50 L106.57 85.95 L106.90 86.25 L107.30 86.38 L107.78 86.36 L108.30 86.24" stroke="#471b7e"/><path d="M108.30 86.24 L108.85 86.05 L109.42 85.82 L110.00 85.60 L110.60 85.38 L111.25 85.14 L111.91 84.87" stroke="#452282"/><path d="M111.91 84.87 L112.57 84.55 L113.19 84.18 L113.75 83.75 L114.24 83.23 L114.68 82.62 L115.08 81.95" stroke="#432886"/><path d="M115.08 81.95 L115.46 81.27 L115.85 80.61 L116.25 80.00 L116.67 79.42" stroke="#402e8a"/><path d="M116.67 79.42 L117.09 78.84 L117.52 78.27 L117.94 77.75" stroke="#3c368d"/><path d="M117.94 77.75 L118.35 77.28 L118.75 76.90 L119.14 76.59" stroke="#393d8f"/><path d="M119.14 76.59 L119.51 76.35 L119.88 76.16" stroke="#364491"/><path d="M119.88 76.16 L120.24 76.04 L120.61 75.99 L121.00 76.00 L121.41 76.09 L121.83 76.26 L122.26 76.50 L122.69 76.79 L123.10 77.13 L123.50 77.50 L123.89 77.93 L124.28 78.43 L124.66 78.98 L125.01 79.54 L125.33 80.09 L125.60 80.60 L125.82 81.08 L126.00 81.57 L126.15 82.04 L126.26 82.49 L126.35 82.91 L126.40 83.30 L126.39 83.64 L126.30 83.94" stroke="#334a93"/><path d="M126.30 83.94 L126.19 84.21 L126.09 84.46 L126.04 84.72 L126.10 85.00 L126.27 85.29 L126.52 85.57 L126.83 85.86 L127.18 86.15 L127.54 86.46" stroke="#364491"/><path d="M127.54 86.46 L127.90 86.80" stroke="#237299"/><path d="M127.90 86.80 L128.27 87.17 L128.66 87.57 L129.08 87.99 L129.49 88.41 L129.90 88.82 L130.30 89.20 L130.68 89.54 L131.06 89.85 L131.44 90.14" stroke="#1b9692"/><path d="M131.44 90.14 L131.80 90.45 L132.16 90.80 L132.50 91.20 L132.83 91.68 L133.16 92.21 L133.47 92.79 L133.77 93.37 L134.05 93.95 L134.30 94.50 L134.51 95.01 L134.69 95.50 L134.85 95.99 L135.00 96.47 L135.14 96.97 L135.30 97.50 L135.47 98.05 L135.64 98.63 L135.81 99.22" stroke="#1a9a90"/><path d="M135.81 99.22 L135.97 99.81 L136.14 100.41 L136.30 101.00 L136.46 101.60 L136.61 102.22 L136.76 102.84 L136.91 103.44 L137.06 104.00 L137.20 104.50 L137.33 104.94 L137.46 105.33 L137.57 105.69 L137.70 106.01 L137.84 106.31 L138.00 106.60 L138.18 106.89 L138.37 107.19 L138.58 107.46" stroke="#1a9e8d"/><path d="M138.58 107.46 L138.80 107.69 L139.04 107.84 L139.30 107.90 L139.58 107.83 L139.89 107.66 L140.21 107.41 L140.54 107.13 L140.88 106.85 L141.20 106.60" stroke="#1ba28b"/></g>
<line x1="37.50" y1="51.20" x2="37.50" y2="60.60" stroke="#e03030" stroke-width="0.8"/><line x1="37.80" y1="55.60" x2="47.50" y2="46.90" stroke="#e03030" stroke-width="0.4" opacity="0.8"/><text x="42.10" y="45.70" font-size="5.2" fill="#e03030" stroke="#e03030" stroke-width="0.18">1000 m</text><text x="25.10" y="89.35" font-size="5.1" font-weight="bold" fill="#0f720f" stroke="#0f720f" stroke-width="0.15" text-anchor="middle">N</text><line x1="25.00" y1="93.00" x2="25.00" y2="99.60" stroke="#0f720f" stroke-width="1.1"/><path d="M22.60 94.80 L25.00 92.40 L27.40 94.80" fill="none" stroke="#0f720f" stroke-width="0.85"/><line x1="19.00" y1="101.50" x2="30.60" y2="101.50" stroke="#0f720f" stroke-width="0.8"/><text x="25.00" y="107.80" font-size="4.7" font-weight="bold" fill="#0f720f" stroke="#0f720f" stroke-width="0.15" text-anchor="middle">500 m</text>
<g transform="translate(159.5,0) scale(1.0041,1)"><g fill="none" stroke-width="2.15" stroke-linecap="round" stroke-linejoin="round"><path d="M20.00 33.90 L20.29 34.24 L20.59 34.56" stroke="#256c98"/><path d="M20.59 34.56 L20.89 34.88 L21.19 35.21 L21.46 35.58" stroke="#237299"/><path d="M21.46 35.58 L21.70 36.00 L21.91 36.48 L22.09 37.00" stroke="#217899"/><path d="M22.09 37.00 L22.24 37.55 L22.39 38.13 L22.54 38.71" stroke="#207e98"/><path d="M22.54 38.71 L22.70 39.30 L22.86 39.90 L23.02 40.52 L23.18 41.16" stroke="#1f8397"/><path d="M23.18 41.16 L23.34 41.79 L23.52 42.41 L23.70 43.00" stroke="#1e8896"/><path d="M23.70 43.00 L23.89 43.55 L24.07 44.06 L24.26 44.56" stroke="#1d8d95"/><path d="M24.26 44.56 L24.47 45.07 L24.71 45.61 L25.00 46.20 L25.32 46.85 L25.65 47.55 L26.02 48.28 L26.44 49.02" stroke="#1c9194"/><path d="M26.44 49.02 L26.92 49.76 L27.50 50.50 L28.19 51.26 L28.99 52.06 L29.86 52.87 L30.76 53.64 L31.65 54.33 L32.50 54.90 L33.33 55.36" stroke="#1b9692"/><path d="M33.33 55.36 L34.18 55.73 L35.02 56.02 L35.82 56.25 L36.58 56.40 L37.25 56.50 L37.81 56.50 L38.28 56.41 L38.69 56.24 L39.08 56.05 L39.51 55.86 L40.00 55.70 L40.57 55.55 L41.18 55.39 L41.81 55.22" stroke="#1a9a90"/><path d="M41.81 55.22 L42.46 55.09 L43.11 55.00 L43.75 55.00 L44.38 55.09 L45.00 55.27 L45.62 55.50 L46.25 55.75 L46.88 56.01 L47.50 56.25 L48.13 56.50 L48.77 56.78 L49.41 57.07 L50.04 57.32 L50.66 57.51 L51.25 57.60 L51.81 57.55 L52.35 57.37 L52.87 57.13" stroke="#1b9692"/><path d="M52.87 57.13 L53.38 56.89 L53.88 56.69 L54.40 56.60 L54.93 56.63 L55.46 56.73 L55.99 56.87 L56.51 57.05 L57.02 57.23 L57.50 57.40 L57.94 57.59 L58.36 57.83 L58.75 58.07 L59.14 58.27" stroke="#1c9194"/><path d="M59.14 58.27 L59.56 58.40 L60.00 58.40 L60.48 58.25 L60.99 57.96 L61.51 57.60 L62.04 57.20 L62.57 56.82 L63.10 56.50 L63.62 56.21" stroke="#1d8d95"/><path d="M63.62 56.21 L64.12 55.92 L64.63 55.64 L65.15 55.40 L65.69 55.21 L66.25 55.10 L66.85 55.08 L67.50 55.14 L68.16 55.26" stroke="#1e8896"/><path d="M68.16 55.26 L68.81 55.41 L69.43 55.57 L70.00 55.70 L70.50 55.86 L70.95 56.07 L71.37 56.28 L71.78 56.46 L72.18 56.54" stroke="#1f8397"/><path d="M72.18 56.54 L72.60 56.50 L73.04 56.28 L73.48 55.92 L73.92 55.48 L74.36 55.00 L74.78 54.56 L75.20 54.20 L75.60 53.92 L75.98 53.66" stroke="#207e98"/><path d="M75.98 53.66 L76.36 53.43 L76.73 53.23 L77.11 53.09 L77.50 53.00 L77.91 52.96 L78.34 52.96 L78.78 53.00 L79.20 53.10 L79.62 53.27 L80.00 53.50 L80.36 53.82 L80.71 54.21 L81.05 54.67" stroke="#217899"/><path d="M81.05 54.67 L81.36 55.18 L81.65 55.71 L81.90 56.25 L82.13 56.80 L82.33 57.38 L82.50 57.98 L82.65 58.62 L82.77 59.29 L82.85 60.00 L82.89 60.77 L82.89 61.60 L82.85 62.46 L82.80 63.33 L82.75 64.19 L82.70 65.00 L82.64 65.78 L82.56 66.54 L82.47 67.28" stroke="#207e98"/><path d="M82.47 67.28 L82.40 68.01 L82.37 68.71 L82.40 69.40 L82.49 70.07 L82.63 70.73 L82.80 71.37 L83.01 71.98 L83.24 72.56 L83.50 73.10 L83.79 73.61 L84.11 74.09 L84.46 74.54 L84.83 74.95 L85.22 75.30 L85.60 75.60 L85.99 75.84 L86.40 76.03 L86.82 76.17 L87.25 76.26 L87.68 76.29 L88.10 76.25 L88.52 76.11 L88.95 75.87" stroke="#1f8397"/><path d="M88.95 75.87 L89.37 75.56 L89.79 75.24 L90.20 74.96 L90.60 74.75 L90.98 74.60 L91.34 74.48 L91.69 74.39 L92.04 74.34 L92.39 74.34 L92.75 74.40 L93.11 74.53 L93.47 74.73 L93.83 74.98 L94.21 75.25 L94.59 75.53 L95.00 75.80 L95.43 76.07 L95.89 76.36 L96.37 76.66 L96.85 76.94 L97.33 77.19 L97.80 77.40 L98.27 77.56 L98.74 77.68 L99.22 77.78 L99.69 77.84 L100.15 77.88 L100.60 77.90" stroke="#1e8896"/><path d="M100.60 77.90 L101.04 77.86 L101.48 77.75 L101.91 77.61 L102.32 77.50 L102.72 77.44 L103.10 77.50 L103.47 77.66 L103.83 77.90 L104.17 78.19 L104.49 78.55" stroke="#1d8d95"/><path d="M104.49 78.55 L104.77 78.95 L105.00 79.40 L105.17 79.92 L105.27 80.52 L105.34 81.17 L105.40 81.84 L105.47 82.49 L105.60 83.10 L105.76 83.70" stroke="#1c9194"/><path d="M105.76 83.70 L105.91 84.33 L106.09 84.95 L106.31 85.50 L106.57 85.95 L106.90 86.25 L107.30 86.38 L107.78 86.36 L108.30 86.24" stroke="#1b9692"/><path d="M108.30 86.24 L108.85 86.05 L109.42 85.82 L110.00 85.60 L110.60 85.38 L111.25 85.14 L111.91 84.87" stroke="#1a9a90"/><path d="M111.91 84.87 L112.57 84.55 L113.19 84.18 L113.75 83.75 L114.24 83.23 L114.68 82.62 L115.08 81.95" stroke="#1a9e8d"/><path d="M115.08 81.95 L115.46 81.27 L115.85 80.61 L116.25 80.00 L116.67 79.42" stroke="#1ba28b"/><path d="M116.67 79.42 L117.09 78.84 L117.52 78.27 L117.94 77.75" stroke="#1ea688"/><path d="M117.94 77.75 L118.35 77.28 L118.75 76.90 L119.14 76.59" stroke="#21a985"/><path d="M119.14 76.59 L119.51 76.35 L119.88 76.16" stroke="#26ad81"/><path d="M119.88 76.16 L120.24 76.04 L120.61 75.99 L121.00 76.00 L121.41 76.09 L121.83 76.26 L122.26 76.50 L122.69 76.79 L123.10 77.13 L123.50 77.50 L123.89 77.93 L124.28 78.43 L124.66 78.98 L125.01 79.54 L125.33 80.09 L125.60 80.60" stroke="#2cb17e"/><path d="M125.60 80.60 L125.82 81.08 L126.00 81.57 L126.15 82.04 L126.26 82.49 L126.35 82.91 L126.40 83.30 L126.39 83.64 L126.30 83.94 L126.19 84.21 L126.09 84.46 L126.04 84.72 L126.10 85.00" stroke="#26ad81"/><path d="M126.10 85.00 L126.27 85.29 L126.52 85.57 L126.83 85.86 L127.18 86.15 L127.54 86.46" stroke="#21a985"/><path d="M127.54 86.46 L127.90 86.80" stroke="#63cb5f"/><path d="M127.90 86.80 L128.27 87.17 L128.66 87.57 L129.08 87.99 L129.49 88.41 L129.90 88.82 L130.30 89.20 L130.68 89.54 L131.06 89.85 L131.44 90.14 L131.80 90.45 L132.16 90.80 L132.50 91.20" stroke="#cae11f"/><path d="M132.50 91.20 L132.83 91.68 L133.16 92.21 L133.47 92.79 L133.77 93.37 L134.05 93.95 L134.30 94.50 L134.51 95.01 L134.69 95.50 L134.85 95.99 L135.00 96.47 L135.14 96.97 L135.30 97.50 L135.47 98.05 L135.64 98.63 L135.81 99.22 L135.97 99.81 L136.14 100.41 L136.30 101.00 L136.46 101.60 L136.61 102.22 L136.76 102.84 L136.91 103.44 L137.06 104.00 L137.20 104.50" stroke="#d8e219"/><path d="M137.20 104.50 L137.33 104.94 L137.46 105.33 L137.57 105.69 L137.70 106.01 L137.84 106.31 L138.00 106.60 L138.18 106.89" stroke="#e5e419"/><path d="M138.18 106.89 L138.37 107.19 L138.58 107.46 L138.80 107.69 L139.04 107.84 L139.30 107.90 L139.58 107.83 L139.89 107.66" stroke="#f1e51d"/><path d="M139.89 107.66 L140.21 107.41 L140.54 107.13 L140.88 106.85 L141.20 106.60" stroke="#fde725"/></g><line x1="37.50" y1="51.20" x2="37.50" y2="60.60" stroke="#e03030" stroke-width="0.8"/><line x1="37.80" y1="55.60" x2="47.50" y2="46.90" stroke="#e03030" stroke-width="0.4" opacity="0.8"/><text x="42.10" y="45.70" font-size="5.2" fill="#e03030" stroke="#e03030" stroke-width="0.18">1000 m</text><text x="25.10" y="89.35" font-size="5.1" font-weight="bold" fill="#0f720f" stroke="#0f720f" stroke-width="0.15" text-anchor="middle">N</text><line x1="25.00" y1="93.00" x2="25.00" y2="99.60" stroke="#0f720f" stroke-width="1.1"/><path d="M22.60 94.80 L25.00 92.40 L27.40 94.80" fill="none" stroke="#0f720f" stroke-width="0.85"/><line x1="19.00" y1="101.50" x2="30.60" y2="101.50" stroke="#0f720f" stroke-width="0.8"/><text x="25.00" y="107.80" font-size="4.7" font-weight="bold" fill="#0f720f" stroke="#0f720f" stroke-width="0.15" text-anchor="middle">500 m</text></g>
<text x="160.2" y="127.60" font-size="6.86" text-anchor="middle" fill="#000" stroke="#000" stroke-width="0.1">Coefficient of variation of simulated bathymetries of COMBINED dataset (%)</text>
<rect x="13.84" y="133.30" width="292.86" height="4.95" fill="url(#vir)" stroke="#222" stroke-width="0.35"/>
<line x1="13.84" y1="138.30" x2="13.84" y2="140.30" stroke="#000" stroke-width="0.6"/>
<text x="13.84" y="147.00" font-size="5.1" text-anchor="middle" fill="#000" stroke="#000" stroke-width="0.1">5.858</text>
<line x1="43.13" y1="138.30" x2="43.13" y2="140.30" stroke="#000" stroke-width="0.6"/>
<text x="43.13" y="147.00" font-size="5.1" text-anchor="middle" fill="#000" stroke="#000" stroke-width="0.1">6.016</text>
<line x1="72.41" y1="138.30" x2="72.41" y2="140.30" stroke="#000" stroke-width="0.6"/>
<text x="72.41" y="147.00" font-size="5.1" text-anchor="middle" fill="#000" stroke="#000" stroke-width="0.1">6.175</text>
<line x1="101.70" y1="138.30" x2="101.70" y2="140.30" stroke="#000" stroke-width="0.6"/>
<text x="101.70" y="147.00" font-size="5.1" text-anchor="middle" fill="#000" stroke="#000" stroke-width="0.1">6.333</text>
<line x1="130.98" y1="138.30" x2="130.98" y2="140.30" stroke="#000" stroke-width="0.6"/>
<text x="130.98" y="147.00" font-size="5.1" text-anchor="middle" fill="#000" stroke="#000" stroke-width="0.1">6.492</text>
<line x1="160.27" y1="138.30" x2="160.27" y2="140.30" stroke="#000" stroke-width="0.6"/>
<text x="160.27" y="147.00" font-size="5.1" text-anchor="middle" fill="#000" stroke="#000" stroke-width="0.1">6.650</text>
<line x1="189.56" y1="138.30" x2="189.56" y2="140.30" stroke="#000" stroke-width="0.6"/>
<text x="189.56" y="147.00" font-size="5.1" text-anchor="middle" fill="#000" stroke="#000" stroke-width="0.1">6.809</text>
<line x1="218.84" y1="138.30" x2="218.84" y2="140.30" stroke="#000" stroke-width="0.6"/>
<text x="218.84" y="147.00" font-size="5.1" text-anchor="middle" fill="#000" stroke="#000" stroke-width="0.1">6.967</text>
<line x1="248.13" y1="138.30" x2="248.13" y2="140.30" stroke="#000" stroke-width="0.6"/>
<text x="248.13" y="147.00" font-size="5.1" text-anchor="middle" fill="#000" stroke="#000" stroke-width="0.1">7.126</text>
<line x1="277.41" y1="138.30" x2="277.41" y2="140.30" stroke="#000" stroke-width="0.6"/>
<text x="277.41" y="147.00" font-size="5.1" text-anchor="middle" fill="#000" stroke="#000" stroke-width="0.1">7.284</text>
<line x1="306.70" y1="138.30" x2="306.70" y2="140.30" stroke="#000" stroke-width="0.6"/>
<text x="306.70" y="147.00" font-size="5.1" text-anchor="middle" fill="#000" stroke="#000" stroke-width="0.1">7.443</text>
</g>
</svg>
</body></html>
